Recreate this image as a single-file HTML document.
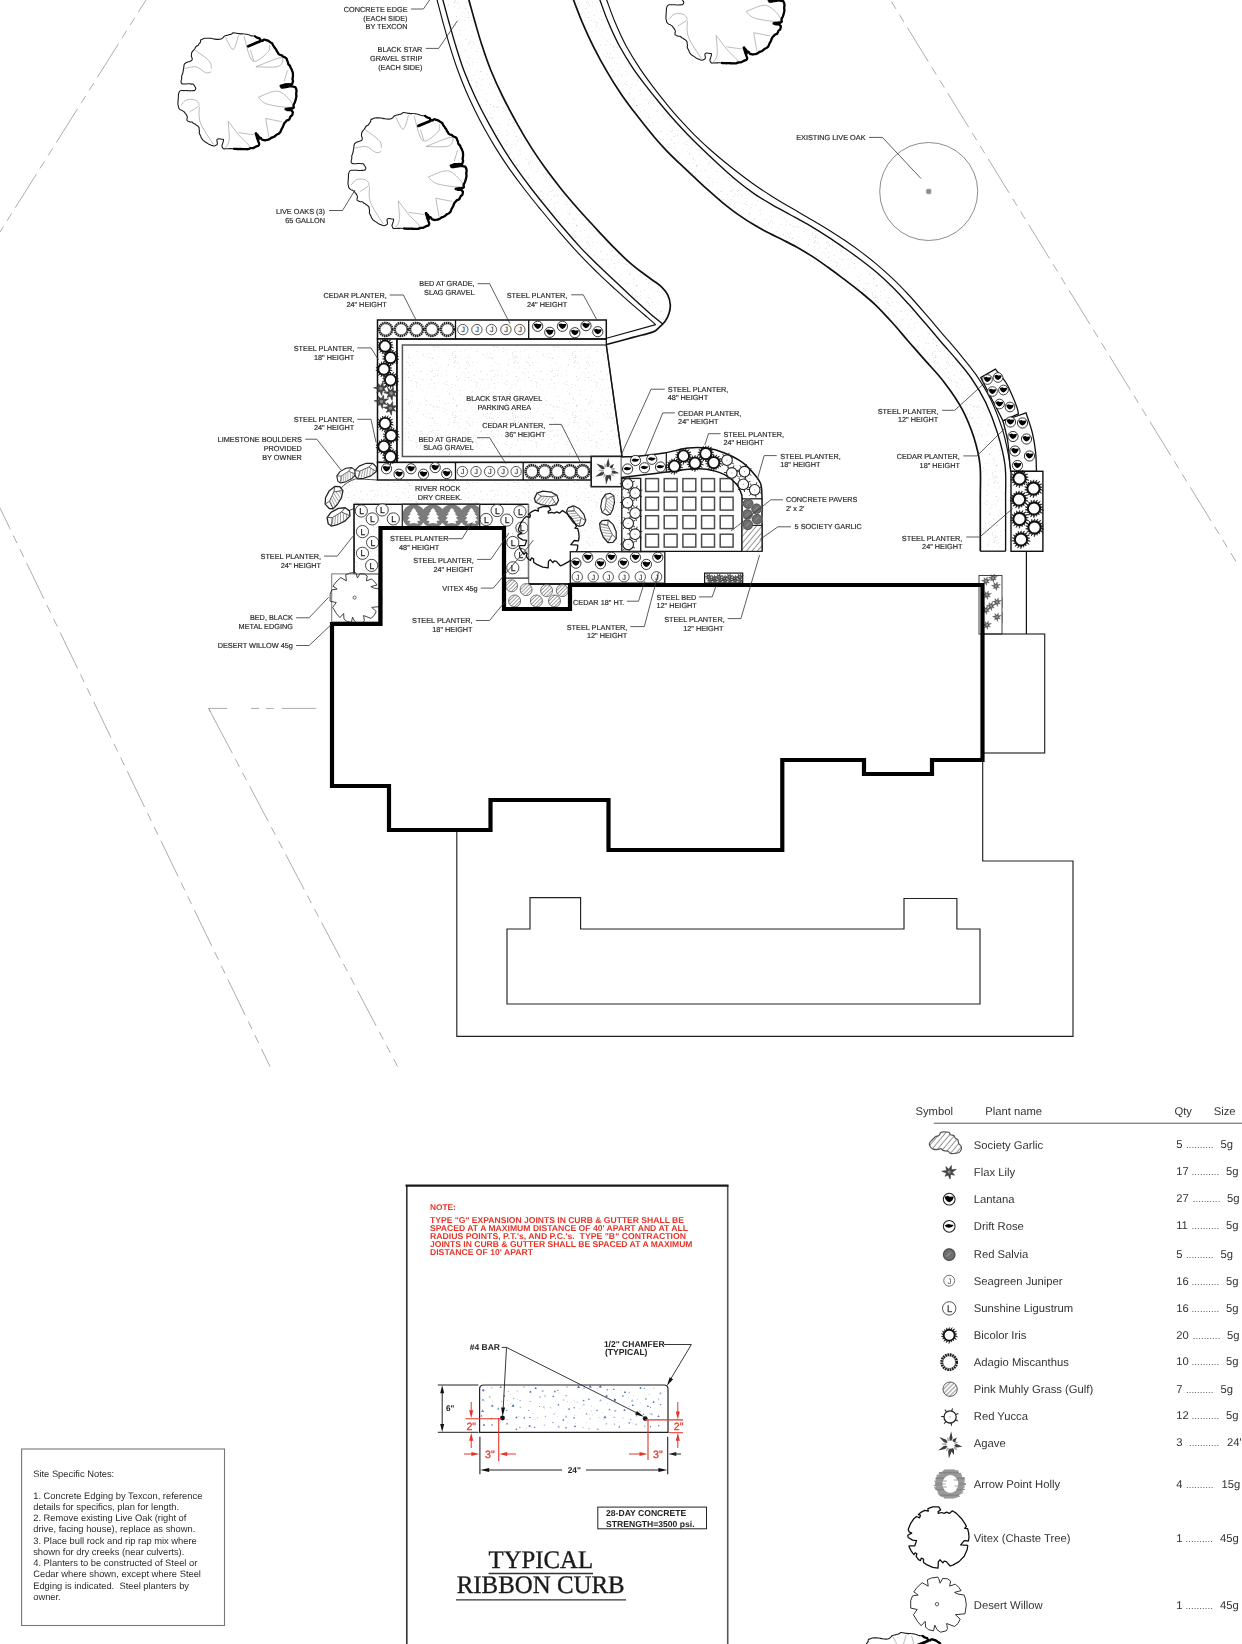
<!DOCTYPE html>
<html><head><meta charset="utf-8"><title>Landscape Plan</title>
<style>
html,body{margin:0;padding:0;background:#fff;}
body{width:1242px;height:1644px;overflow:hidden;}
svg{display:block;font-family:"Liberation Sans",sans-serif;}
svg text{text-rendering:geometricPrecision;}
</style></head><body>
<svg width="1242" height="1644" viewBox="0 0 1242 1644">
<rect width="1242" height="1644" fill="#fff"/>
<defs>
<pattern id="stip" width="60" height="60" patternUnits="userSpaceOnUse"><circle cx="14.3" cy="32.7" r="0.3" fill="#cfcfcf"/><circle cx="37.5" cy="3.9" r="0.3" fill="#a8a8a8"/><circle cx="15.6" cy="14.1" r="0.3" fill="#999"/><circle cx="23.8" cy="51.7" r="0.4" fill="#bdbdbd"/><circle cx="52.1" cy="31.4" r="0.35" fill="#a8a8a8"/><circle cx="9.6" cy="57.4" r="0.45" fill="#a8a8a8"/><circle cx="46.8" cy="49.4" r="0.3" fill="#cfcfcf"/><circle cx="35.7" cy="55.2" r="0.3" fill="#999"/><circle cx="23.7" cy="48.1" r="0.4" fill="#999"/><circle cx="52.7" cy="5.8" r="0.3" fill="#bdbdbd"/><circle cx="13" cy="57.9" r="0.45" fill="#999"/><circle cx="25.3" cy="50" r="0.45" fill="#c4c4c4"/><circle cx="32" cy="24.5" r="0.45" fill="#bdbdbd"/><circle cx="40.9" cy="55.7" r="0.4" fill="#cfcfcf"/><circle cx="41.9" cy="19.6" r="0.35" fill="#c4c4c4"/><circle cx="42.8" cy="12.7" r="0.45" fill="#c4c4c4"/><circle cx="17.1" cy="3.8" r="0.35" fill="#999"/><circle cx="20.6" cy="4" r="0.35" fill="#bdbdbd"/><circle cx="17.6" cy="46.1" r="0.35" fill="#a8a8a8"/><circle cx="36.3" cy="45.7" r="0.45" fill="#999"/><circle cx="33.1" cy="55.3" r="0.4" fill="#cfcfcf"/><circle cx="59.9" cy="18.6" r="0.35" fill="#a8a8a8"/><circle cx="36" cy="1.9" r="0.3" fill="#bdbdbd"/><circle cx="17.5" cy="15.8" r="0.45" fill="#a8a8a8"/><circle cx="18.8" cy="57.5" r="0.3" fill="#999"/><circle cx="27.6" cy="31.2" r="0.35" fill="#c4c4c4"/><circle cx="37.2" cy="56.4" r="0.45" fill="#c4c4c4"/><circle cx="25.9" cy="43.2" r="0.45" fill="#bdbdbd"/><circle cx="26.2" cy="15.5" r="0.45" fill="#cfcfcf"/><circle cx="0.7" cy="24.9" r="0.45" fill="#c4c4c4"/><circle cx="1.2" cy="36.9" r="0.35" fill="#bdbdbd"/><circle cx="38" cy="19.9" r="0.45" fill="#cfcfcf"/><circle cx="36.5" cy="16.7" r="0.35" fill="#999"/><circle cx="35.4" cy="57.3" r="0.45" fill="#a8a8a8"/><circle cx="15.1" cy="27.4" r="0.45" fill="#c4c4c4"/><circle cx="10.6" cy="11.1" r="0.45" fill="#cfcfcf"/><circle cx="18" cy="22.6" r="0.4" fill="#a8a8a8"/><circle cx="18.6" cy="13.4" r="0.4" fill="#cfcfcf"/><circle cx="19.7" cy="40.7" r="0.35" fill="#a8a8a8"/><circle cx="36" cy="56.9" r="0.3" fill="#bdbdbd"/><circle cx="48.6" cy="57.6" r="0.45" fill="#a8a8a8"/><circle cx="44.5" cy="13.1" r="0.3" fill="#c4c4c4"/><circle cx="16.2" cy="47.2" r="0.4" fill="#a8a8a8"/><circle cx="18.9" cy="50.2" r="0.4" fill="#c4c4c4"/><circle cx="51.8" cy="20.4" r="0.45" fill="#a8a8a8"/><circle cx="35.4" cy="25.3" r="0.45" fill="#c4c4c4"/><circle cx="27.9" cy="38.1" r="0.3" fill="#cfcfcf"/><circle cx="34.1" cy="2.1" r="0.4" fill="#999"/><circle cx="12" cy="28.6" r="0.3" fill="#c4c4c4"/><circle cx="33.5" cy="59.1" r="0.35" fill="#bdbdbd"/><circle cx="44.7" cy="50.2" r="0.45" fill="#c4c4c4"/><circle cx="32.6" cy="53.4" r="0.45" fill="#a8a8a8"/><circle cx="7.2" cy="14.7" r="0.4" fill="#a8a8a8"/><circle cx="53.8" cy="54" r="0.35" fill="#c4c4c4"/><circle cx="0.8" cy="44.7" r="0.45" fill="#bdbdbd"/><circle cx="14.3" cy="1.2" r="0.3" fill="#c4c4c4"/><circle cx="3.2" cy="54.8" r="0.45" fill="#a8a8a8"/><circle cx="7.5" cy="58.3" r="0.3" fill="#c4c4c4"/><circle cx="48.7" cy="3.7" r="0.4" fill="#bdbdbd"/><circle cx="7.3" cy="53.3" r="0.4" fill="#a8a8a8"/><circle cx="14.4" cy="16.4" r="0.35" fill="#bdbdbd"/><circle cx="29.3" cy="34.3" r="0.35" fill="#999"/><circle cx="45.4" cy="14.9" r="0.3" fill="#c4c4c4"/><circle cx="3.1" cy="19.4" r="0.35" fill="#a8a8a8"/><circle cx="46.5" cy="2.8" r="0.35" fill="#a8a8a8"/><circle cx="29" cy="2" r="0.3" fill="#a8a8a8"/><circle cx="19" cy="18.9" r="0.3" fill="#cfcfcf"/><circle cx="38.8" cy="35.2" r="0.45" fill="#cfcfcf"/><circle cx="11.5" cy="19.7" r="0.4" fill="#a8a8a8"/><circle cx="33.3" cy="43" r="0.35" fill="#999"/><circle cx="34" cy="2.6" r="0.3" fill="#999"/><circle cx="38.2" cy="2.6" r="0.35" fill="#999"/><circle cx="22.3" cy="29.8" r="0.3" fill="#cfcfcf"/><circle cx="57" cy="25.1" r="0.4" fill="#a8a8a8"/><circle cx="13.1" cy="16.2" r="0.35" fill="#c4c4c4"/><circle cx="48.2" cy="13.5" r="0.35" fill="#bdbdbd"/><circle cx="56.2" cy="22.5" r="0.45" fill="#c4c4c4"/><circle cx="7.3" cy="41.4" r="0.3" fill="#c4c4c4"/><circle cx="40.1" cy="44" r="0.35" fill="#c4c4c4"/><circle cx="48.7" cy="43" r="0.4" fill="#999"/><circle cx="14.2" cy="23.3" r="0.35" fill="#c4c4c4"/><circle cx="33.9" cy="39.6" r="0.4" fill="#999"/><circle cx="49.2" cy="20.5" r="0.35" fill="#a8a8a8"/><circle cx="50.6" cy="40.4" r="0.45" fill="#cfcfcf"/><circle cx="47.9" cy="2.2" r="0.4" fill="#c4c4c4"/><circle cx="6.4" cy="44.9" r="0.35" fill="#c4c4c4"/><circle cx="33" cy="52.2" r="0.35" fill="#bdbdbd"/><circle cx="14.5" cy="10.8" r="0.3" fill="#bdbdbd"/><circle cx="37" cy="45.2" r="0.45" fill="#999"/><circle cx="22" cy="23.8" r="0.3" fill="#cfcfcf"/><circle cx="58" cy="22.5" r="0.3" fill="#bdbdbd"/><circle cx="50.6" cy="58" r="0.3" fill="#999"/><circle cx="9.4" cy="24.1" r="0.4" fill="#bdbdbd"/><circle cx="5.8" cy="44.9" r="0.3" fill="#c4c4c4"/><circle cx="35.2" cy="51.5" r="0.45" fill="#bdbdbd"/><circle cx="45.1" cy="8.8" r="0.45" fill="#c4c4c4"/><circle cx="56.1" cy="51.1" r="0.45" fill="#c4c4c4"/><circle cx="40.3" cy="51.3" r="0.45" fill="#c4c4c4"/><circle cx="53.4" cy="18.4" r="0.3" fill="#cfcfcf"/><circle cx="48.2" cy="12" r="0.45" fill="#c4c4c4"/><circle cx="14.3" cy="29" r="0.3" fill="#bdbdbd"/><circle cx="59.5" cy="28.8" r="0.4" fill="#c4c4c4"/><circle cx="28.1" cy="50.1" r="0.35" fill="#c4c4c4"/><circle cx="28.9" cy="43.2" r="0.35" fill="#999"/><circle cx="28" cy="13.8" r="0.35" fill="#bdbdbd"/><circle cx="57.5" cy="51.2" r="0.4" fill="#bdbdbd"/><circle cx="46.5" cy="8.2" r="0.35" fill="#c4c4c4"/><circle cx="54" cy="15.3" r="0.45" fill="#a8a8a8"/><circle cx="11" cy="5.5" r="0.35" fill="#a8a8a8"/><circle cx="5.6" cy="50" r="0.35" fill="#cfcfcf"/><circle cx="21.4" cy="34.8" r="0.35" fill="#cfcfcf"/><circle cx="1.8" cy="19.9" r="0.3" fill="#999"/><circle cx="4.7" cy="38.7" r="0.3" fill="#999"/><circle cx="7.5" cy="19.1" r="0.35" fill="#cfcfcf"/><circle cx="39.9" cy="6.8" r="0.45" fill="#c4c4c4"/><circle cx="5.8" cy="56.5" r="0.45" fill="#cfcfcf"/><circle cx="45.4" cy="17.7" r="0.35" fill="#cfcfcf"/><circle cx="45.3" cy="57.7" r="0.35" fill="#c4c4c4"/><circle cx="40" cy="30.5" r="0.45" fill="#a8a8a8"/><circle cx="40.7" cy="34" r="0.4" fill="#bdbdbd"/><circle cx="10.7" cy="53.4" r="0.35" fill="#999"/><circle cx="6.5" cy="33.6" r="0.3" fill="#cfcfcf"/><circle cx="33.3" cy="38.8" r="0.3" fill="#999"/><circle cx="18.7" cy="10.6" r="0.35" fill="#a8a8a8"/><circle cx="43" cy="45.3" r="0.3" fill="#c4c4c4"/><circle cx="21.6" cy="16" r="0.35" fill="#999"/><circle cx="52.4" cy="2.5" r="0.45" fill="#c4c4c4"/><circle cx="14.8" cy="46.1" r="0.45" fill="#cfcfcf"/><circle cx="56.7" cy="26.9" r="0.45" fill="#a8a8a8"/><circle cx="29.9" cy="59.7" r="0.45" fill="#bdbdbd"/><circle cx="35.4" cy="40.9" r="0.35" fill="#c4c4c4"/><circle cx="11.1" cy="11.4" r="0.3" fill="#999"/><circle cx="48.9" cy="44.9" r="0.4" fill="#c4c4c4"/><circle cx="51.6" cy="47.9" r="0.4" fill="#c4c4c4"/><circle cx="34.1" cy="12.1" r="0.45" fill="#cfcfcf"/><circle cx="46.9" cy="1.8" r="0.3" fill="#999"/><circle cx="57" cy="23" r="0.45" fill="#c4c4c4"/><circle cx="38" cy="58.6" r="0.3" fill="#cfcfcf"/><circle cx="1.8" cy="11.4" r="0.35" fill="#a8a8a8"/><circle cx="46.2" cy="39.7" r="0.4" fill="#999"/><circle cx="31.4" cy="27.6" r="0.4" fill="#bdbdbd"/><circle cx="2.2" cy="30" r="0.35" fill="#999"/><circle cx="34" cy="57.5" r="0.4" fill="#bdbdbd"/><circle cx="28" cy="5.3" r="0.35" fill="#a8a8a8"/><circle cx="21.6" cy="14" r="0.3" fill="#a8a8a8"/><circle cx="32.3" cy="55.8" r="0.45" fill="#cfcfcf"/><circle cx="52.2" cy="41.7" r="0.35" fill="#bdbdbd"/><circle cx="51.5" cy="36.1" r="0.35" fill="#a8a8a8"/><circle cx="44.4" cy="20.6" r="0.35" fill="#bdbdbd"/><circle cx="51.7" cy="26.2" r="0.3" fill="#bdbdbd"/><circle cx="18.9" cy="47.2" r="0.35" fill="#999"/><circle cx="50.7" cy="42.4" r="0.3" fill="#999"/><circle cx="28.4" cy="4.1" r="0.4" fill="#999"/><circle cx="39" cy="18.3" r="0.3" fill="#999"/><circle cx="45.4" cy="24.1" r="0.3" fill="#bdbdbd"/><circle cx="54" cy="43.2" r="0.45" fill="#cfcfcf"/><circle cx="26.9" cy="21.7" r="0.4" fill="#999"/><circle cx="58.2" cy="48.3" r="0.45" fill="#cfcfcf"/><circle cx="8.6" cy="27.6" r="0.4" fill="#bdbdbd"/><circle cx="12.6" cy="10.2" r="0.4" fill="#999"/><circle cx="38.2" cy="8.4" r="0.4" fill="#c4c4c4"/><circle cx="26.6" cy="11.1" r="0.3" fill="#a8a8a8"/><circle cx="26.9" cy="24.5" r="0.4" fill="#a8a8a8"/><circle cx="24.2" cy="23.8" r="0.4" fill="#a8a8a8"/><circle cx="14.5" cy="23.3" r="0.4" fill="#bdbdbd"/><circle cx="20" cy="7" r="0.35" fill="#a8a8a8"/><circle cx="48.4" cy="17.4" r="0.45" fill="#999"/><circle cx="29.3" cy="33.7" r="0.45" fill="#a8a8a8"/><circle cx="37.7" cy="20.7" r="0.35" fill="#a8a8a8"/><circle cx="40.9" cy="58.2" r="0.35" fill="#c4c4c4"/><circle cx="6.3" cy="40.8" r="0.4" fill="#a8a8a8"/><circle cx="30.2" cy="28.9" r="0.45" fill="#bdbdbd"/><circle cx="12" cy="58.4" r="0.45" fill="#999"/><circle cx="48.2" cy="55" r="0.3" fill="#a8a8a8"/><circle cx="18.3" cy="36.4" r="0.35" fill="#999"/><circle cx="56.8" cy="11" r="0.35" fill="#999"/><circle cx="30.4" cy="32.8" r="0.3" fill="#c4c4c4"/><circle cx="10.5" cy="44.4" r="0.45" fill="#999"/><circle cx="55.4" cy="21.8" r="0.3" fill="#999"/><circle cx="13.8" cy="46.8" r="0.45" fill="#999"/><circle cx="16.2" cy="10.2" r="0.3" fill="#c4c4c4"/><circle cx="57" cy="2.6" r="0.35" fill="#bdbdbd"/><circle cx="49.4" cy="5.5" r="0.45" fill="#a8a8a8"/><circle cx="14.2" cy="50.6" r="0.35" fill="#a8a8a8"/><circle cx="27" cy="53.8" r="0.45" fill="#cfcfcf"/><circle cx="0.1" cy="11.7" r="0.45" fill="#a8a8a8"/><circle cx="34.1" cy="6.6" r="0.4" fill="#a8a8a8"/><circle cx="14.4" cy="2.9" r="0.4" fill="#bdbdbd"/><circle cx="35.1" cy="0.7" r="0.45" fill="#bdbdbd"/><circle cx="58" cy="13.2" r="0.3" fill="#c4c4c4"/></pattern>
<pattern id="hat" width="2.6" height="2.6" patternUnits="userSpaceOnUse" patternTransform="rotate(-45)"><rect width="2.6" height="2.6" fill="#fff"/><line x1="0" y1="1.3" x2="2.6" y2="1.3" stroke="#8a8a8a" stroke-width="0.8"/></pattern>
<pattern id="hat2" width="4.2" height="4.2" patternUnits="userSpaceOnUse" patternTransform="rotate(-50)"><rect width="4.2" height="4.2" fill="#fff"/><line x1="0" y1="2" x2="4.2" y2="2" stroke="#777" stroke-width="0.8"/></pattern>
<g id="speck"><circle cx="3.7" cy="5.4" r="1.1" fill="#4a6fae"/><circle cx="12.2" cy="2.8" r="0.5" fill="#4a6fae"/><polygon points="21.2,0.8 22.4,3 19.9,2.9" fill="#6a8cc0"/><circle cx="29" cy="6.4" r="0.6" fill="#a9bedf"/><circle cx="37.6" cy="6.1" r="0.5" fill="#6a8cc0"/><circle cx="44.5" cy="1.9" r="0.6" fill="#6a8cc0"/><circle cx="50.8" cy="6.9" r="0.9" fill="#4a6fae"/><polygon points="56.1,1.8 57.3,4 54.9,3.9" fill="#4a6fae"/><circle cx="63.1" cy="6.1" r="1.1" fill="#a9bedf"/><circle cx="75.3" cy="6.5" r="0.9" fill="#6a8cc0"/><polygon points="78.2,4.6 78.9,6 77.4,5.9" fill="#4a6fae"/><polygon points="87.4,1.1 88.2,2.5 86.7,2.5" fill="#5578b0"/><polygon points="99,0.2 100.5,3 97.4,2.8" fill="#4a6fae"/><polygon points="104.5,1.7 105.6,3.7 103.4,3.6" fill="#8fa9d2"/><polygon points="110.7,-0.1 112.2,2.7 109.1,2.6" fill="#5578b0"/><polygon points="120.7,-0.1 122.3,2.7 119.2,2.6" fill="#4a6fae"/><polygon points="127.6,3.6 128.5,5.4 126.6,5.3" fill="#6a8cc0"/><polygon points="134.2,3.2 135.2,5 133.2,4.9" fill="#5578b0"/><polygon points="145.4,5.8 146.6,8 144.2,7.9" fill="#5578b0"/><polygon points="149.7,6.3 150.8,8.3 148.6,8.2" fill="#a9bedf"/><circle cx="160.9" cy="3" r="0.9" fill="#5578b0"/><polygon points="164.7,2.7 165.4,4.1 163.9,4.1" fill="#5578b0"/><polygon points="173.9,2.5 174.6,3.7 173.2,3.6" fill="#8fa9d2"/><polygon points="180.8,6.5 182.4,9.3 179.3,9.2" fill="#a9bedf"/><circle cx="3.3" cy="14.9" r="0.9" fill="#6a8cc0"/><polygon points="10.2,10.6 11.3,12.6 9.1,12.5" fill="#a9bedf"/><polygon points="22.1,16 22.8,17.2 21.4,17.1" fill="#5578b0"/><circle cx="24.7" cy="10.8" r="0.9" fill="#6a8cc0"/><polygon points="34.1,12.7 34.8,13.9 33.5,13.9" fill="#4a6fae"/><polygon points="40.6,14.7 41.3,16.1 39.8,16" fill="#6a8cc0"/><polygon points="50.6,15.7 51.2,16.9 49.9,16.9" fill="#5578b0"/><polygon points="60.4,11.1 61.2,12.5 59.6,12.4" fill="#5578b0"/><polygon points="65.3,9.8 66.3,11.6 64.3,11.6" fill="#8fa9d2"/><circle cx="73.7" cy="11.4" r="0.9" fill="#6a8cc0"/><circle cx="83.9" cy="15.1" r="0.8" fill="#a9bedf"/><circle cx="86.5" cy="10.7" r="0.6" fill="#4a6fae"/><circle cx="97.6" cy="17.2" r="0.6" fill="#a9bedf"/><circle cx="104" cy="15.6" r="0.9" fill="#6a8cc0"/><circle cx="109.3" cy="14.3" r="0.8" fill="#5578b0"/><polygon points="120.9,14.1 122.1,16.3 119.7,16.2" fill="#8fa9d2"/><circle cx="127" cy="11" r="1.1" fill="#5578b0"/><circle cx="135.3" cy="14.9" r="1.1" fill="#4a6fae"/><circle cx="143.3" cy="11.1" r="0.8" fill="#5578b0"/><polygon points="152.6,13.9 154.1,16.7 151,16.6" fill="#a9bedf"/><polygon points="157.8,13.6 158.4,14.8 157.1,14.7" fill="#a9bedf"/><polygon points="166.3,12.8 167.3,14.6 165.3,14.5" fill="#5578b0"/><polygon points="174.1,15.6 175.3,17.8 172.9,17.7" fill="#5578b0"/><circle cx="179" cy="14.8" r="0.5" fill="#6a8cc0"/><polygon points="3.1,24.3 4.6,27.1 1.5,27" fill="#6a8cc0"/><circle cx="12.7" cy="20.9" r="1.1" fill="#6a8cc0"/><polygon points="18.7,22.3 19.9,24.5 17.5,24.4" fill="#6a8cc0"/><circle cx="27.1" cy="25.4" r="0.6" fill="#5578b0"/><polygon points="33.5,19 35,21.8 31.9,21.7" fill="#4a6fae"/><polygon points="40.8,21.2 41.9,23.2 39.7,23.1" fill="#a9bedf"/><polygon points="49.1,24.7 49.8,25.9 48.4,25.8" fill="#4a6fae"/><circle cx="59.9" cy="21.4" r="0.5" fill="#5578b0"/><polygon points="64.3,20.8 65.4,22.8 63.2,22.7" fill="#a9bedf"/><polygon points="71.1,21.8 71.9,23.2 70.3,23.2" fill="#8fa9d2"/><polygon points="78.8,18.6 79.9,20.6 77.7,20.5" fill="#5578b0"/><circle cx="89.5" cy="24.1" r="0.9" fill="#5578b0"/><circle cx="94.6" cy="22.8" r="0.7" fill="#5578b0"/><circle cx="104.3" cy="19.8" r="0.7" fill="#8fa9d2"/><circle cx="112" cy="26.1" r="0.5" fill="#a9bedf"/><polygon points="117.5,24.2 118.6,26.2 116.4,26.1" fill="#6a8cc0"/><polygon points="129.8,23.5 130.8,25.3 128.8,25.2" fill="#4a6fae"/><circle cx="135.7" cy="25.9" r="1.1" fill="#a9bedf"/><polygon points="144.9,23.8 146.1,26 143.7,25.8" fill="#4a6fae"/><polygon points="153.2,19 154.3,21 152.1,20.9" fill="#5578b0"/><circle cx="160.4" cy="26.4" r="0.9" fill="#a9bedf"/><polygon points="168.3,20.1 169.4,22.1 167.2,22" fill="#5578b0"/><circle cx="170.9" cy="22.6" r="0.5" fill="#4a6fae"/><circle cx="181" cy="19.7" r="0.6" fill="#4a6fae"/><polygon points="2,29.8 3,31.6 1,31.5" fill="#4a6fae"/><circle cx="11.8" cy="33.6" r="0.8" fill="#4a6fae"/><polygon points="19.4,34.3 20.1,35.7 18.6,35.6" fill="#6a8cc0"/><circle cx="27.5" cy="34.3" r="0.5" fill="#6a8cc0"/><circle cx="36.9" cy="32.4" r="0.9" fill="#4a6fae"/><circle cx="44.7" cy="32.8" r="0.9" fill="#6a8cc0"/><circle cx="50.3" cy="32.5" r="0.7" fill="#4a6fae"/><circle cx="57.9" cy="32.7" r="0.6" fill="#a9bedf"/><polygon points="65.7,30.6 66.4,31.8 65,31.7" fill="#5578b0"/><polygon points="74.4,28.2 75.1,29.4 73.8,29.4" fill="#4a6fae"/><polygon points="83.7,33.6 85,35.8 82.5,35.7" fill="#6a8cc0"/><polygon points="86.5,29.9 88,32.7 84.9,32.5" fill="#a9bedf"/><circle cx="94.5" cy="32.8" r="0.9" fill="#6a8cc0"/><polygon points="107,27.7 108,29.5 106,29.4" fill="#6a8cc0"/><polygon points="110.5,32.5 111.5,34.3 109.5,34.2" fill="#a9bedf"/><polygon points="119.5,31.9 120.2,33.1 118.8,33" fill="#a9bedf"/><polygon points="125.4,30.5 126.9,33.3 123.8,33.2" fill="#5578b0"/><polygon points="134.4,31.1 135.4,32.9 133.4,32.8" fill="#a9bedf"/><circle cx="143.4" cy="33" r="0.5" fill="#6a8cc0"/><circle cx="151" cy="34.5" r="0.7" fill="#8fa9d2"/><circle cx="156.9" cy="30.7" r="0.7" fill="#6a8cc0"/><circle cx="163.9" cy="29.2" r="0.7" fill="#6a8cc0"/><circle cx="172" cy="29.2" r="1.1" fill="#a9bedf"/><polygon points="178.9,30.1 180,32.1 177.8,32" fill="#5578b0"/><circle cx="4.4" cy="40" r="0.9" fill="#5578b0"/><circle cx="12.5" cy="39.9" r="0.8" fill="#6a8cc0"/><circle cx="19.3" cy="37.7" r="0.5" fill="#a9bedf"/><polygon points="27.5,37.4 28.5,39.2 26.5,39.2" fill="#5578b0"/><circle cx="36.8" cy="44.4" r="0.8" fill="#5578b0"/><polygon points="40.3,41.4 41.1,42.8 39.5,42.8" fill="#5578b0"/><circle cx="50" cy="41.1" r="1.1" fill="#6a8cc0"/><polygon points="55,41.3 56,43.1 54,43" fill="#6a8cc0"/><polygon points="64.8,39 65.7,40.8 63.8,40.7" fill="#a9bedf"/><circle cx="73.4" cy="37.6" r="0.6" fill="#4a6fae"/><polygon points="79.1,40.3 80.4,42.5 77.9,42.4" fill="#8fa9d2"/><polygon points="86.4,41.6 87.4,43.4 85.4,43.3" fill="#4a6fae"/><circle cx="95.4" cy="41.3" r="0.9" fill="#4a6fae"/><polygon points="103.5,41.7 104.3,43.1 102.8,43" fill="#8fa9d2"/><polygon points="109.4,42.5 110.5,44.5 108.3,44.4" fill="#a9bedf"/><polygon points="118.1,42.9 119.3,45.1 116.9,45" fill="#8fa9d2"/><circle cx="126.6" cy="38.8" r="0.6" fill="#4a6fae"/><circle cx="134.9" cy="39" r="0.6" fill="#4a6fae"/><polygon points="139.7,40.6 140.8,42.6 138.6,42.5" fill="#6a8cc0"/><polygon points="149.7,36.8 150.7,38.6 148.7,38.5" fill="#4a6fae"/><circle cx="156.6" cy="39.4" r="0.9" fill="#a9bedf"/><circle cx="165.2" cy="41.1" r="0.6" fill="#4a6fae"/><circle cx="170.9" cy="41.7" r="0.6" fill="#4a6fae"/><circle cx="179.1" cy="40.8" r="0.7" fill="#4a6fae"/><circle cx="112.2" cy="21" r="0.4" fill="#9a9a9a"/><circle cx="93.5" cy="14.9" r="0.4" fill="#9a9a9a"/><circle cx="75.9" cy="16.1" r="0.4" fill="#9a9a9a"/><circle cx="100.1" cy="23.3" r="0.4" fill="#9a9a9a"/><circle cx="52.4" cy="42" r="0.4" fill="#9a9a9a"/><circle cx="124.4" cy="34.4" r="0.4" fill="#9a9a9a"/><circle cx="7.9" cy="35.4" r="0.4" fill="#9a9a9a"/><circle cx="110.2" cy="29.6" r="0.4" fill="#9a9a9a"/><circle cx="77.8" cy="31.7" r="0.4" fill="#9a9a9a"/><circle cx="12.7" cy="16.2" r="0.4" fill="#9a9a9a"/><circle cx="75.8" cy="27.4" r="0.4" fill="#9a9a9a"/><circle cx="135.3" cy="16.4" r="0.4" fill="#9a9a9a"/><circle cx="149" cy="12.4" r="0.4" fill="#9a9a9a"/><circle cx="134.6" cy="13.5" r="0.4" fill="#9a9a9a"/><circle cx="141.3" cy="4.9" r="0.4" fill="#9a9a9a"/><circle cx="21" cy="37" r="0.4" fill="#9a9a9a"/><circle cx="169.4" cy="9.1" r="0.4" fill="#9a9a9a"/><circle cx="178.7" cy="13.3" r="0.4" fill="#9a9a9a"/><circle cx="132.3" cy="5.1" r="0.4" fill="#9a9a9a"/><circle cx="79.3" cy="8" r="0.4" fill="#9a9a9a"/><circle cx="160.6" cy="18" r="0.4" fill="#9a9a9a"/><circle cx="31.3" cy="18.3" r="0.4" fill="#9a9a9a"/><circle cx="28.6" cy="20.5" r="0.4" fill="#9a9a9a"/><circle cx="113" cy="29.9" r="0.4" fill="#9a9a9a"/><circle cx="127.8" cy="18.3" r="0.4" fill="#9a9a9a"/><circle cx="139.1" cy="37.2" r="0.4" fill="#9a9a9a"/><circle cx="28.1" cy="15.2" r="0.4" fill="#9a9a9a"/><circle cx="26.6" cy="23.2" r="0.4" fill="#9a9a9a"/><circle cx="95" cy="16" r="0.4" fill="#9a9a9a"/><circle cx="95.8" cy="38.6" r="0.4" fill="#9a9a9a"/><circle cx="53.3" cy="28.6" r="0.4" fill="#9a9a9a"/><circle cx="135.7" cy="32.4" r="0.4" fill="#9a9a9a"/><circle cx="37.8" cy="14.7" r="0.4" fill="#9a9a9a"/><circle cx="46.8" cy="43" r="0.4" fill="#9a9a9a"/><circle cx="94.9" cy="30.4" r="0.4" fill="#9a9a9a"/><circle cx="38.9" cy="31.7" r="0.4" fill="#9a9a9a"/><circle cx="118" cy="3.4" r="0.4" fill="#9a9a9a"/><circle cx="50.5" cy="4.1" r="0.4" fill="#9a9a9a"/><circle cx="10" cy="12.3" r="0.4" fill="#9a9a9a"/><circle cx="53.9" cy="34.7" r="0.4" fill="#9a9a9a"/><circle cx="170.1" cy="9.8" r="0.4" fill="#9a9a9a"/><circle cx="46" cy="44.2" r="0.4" fill="#9a9a9a"/><circle cx="91.6" cy="17.9" r="0.4" fill="#9a9a9a"/><circle cx="64.9" cy="23.8" r="0.4" fill="#9a9a9a"/><circle cx="27.4" cy="39.5" r="0.4" fill="#9a9a9a"/><circle cx="149.8" cy="21.8" r="0.4" fill="#9a9a9a"/><circle cx="153.4" cy="38.2" r="0.4" fill="#9a9a9a"/><circle cx="143.7" cy="21.7" r="0.4" fill="#9a9a9a"/><circle cx="139.8" cy="19.4" r="0.4" fill="#9a9a9a"/><circle cx="30.6" cy="9.4" r="0.4" fill="#9a9a9a"/><circle cx="156.1" cy="28.1" r="0.4" fill="#9a9a9a"/><circle cx="56.2" cy="34.9" r="0.4" fill="#9a9a9a"/><circle cx="154.2" cy="10.7" r="0.4" fill="#9a9a9a"/><circle cx="122.6" cy="27.4" r="0.4" fill="#9a9a9a"/><circle cx="87.5" cy="16.6" r="0.4" fill="#9a9a9a"/><circle cx="102.5" cy="21.1" r="0.4" fill="#9a9a9a"/><circle cx="106.9" cy="37.2" r="0.4" fill="#9a9a9a"/><circle cx="87.8" cy="37.6" r="0.4" fill="#9a9a9a"/><circle cx="4.7" cy="16" r="0.4" fill="#9a9a9a"/><circle cx="169.7" cy="28.4" r="0.4" fill="#9a9a9a"/></g>
<g id="lan"><circle r="5.1" fill="#fff" stroke="#222" stroke-width="0.9"/><path d="M-3.9,-2.2 L-1.2,-2.9 L0.3,-2.2 L3.9,-2.4 Q3.4,1.6 0,2.6 Q-3.3,1.6 -3.9,-2.2Z" fill="#000"/></g>
<g id="dr"><circle r="5.1" fill="#fff" stroke="#222" stroke-width="0.9"/><path d="M-4,-0.6 Q-1,-2.6 1,-1.6 L4,-1.2 Q2.2,1.6 -0.5,1.3 Q-3,1.2 -4,-0.6Z" fill="#000"/></g>
<g id="jun"><circle r="5.2" fill="#fff" stroke="#444" stroke-width="0.9"/><text x="0.2" y="2.7" font-size="7.4" stroke="#444" stroke-width="0.2" text-anchor="middle" fill="#444">J</text></g>
<g id="lig"><circle r="6.1" fill="#fff" stroke="#333" stroke-width="0.9"/><text x="0.3" y="3.1" font-size="8.6" text-anchor="middle" fill="#222" stroke="#222" stroke-width="0.25">L</text></g>
<g id="iris"><path d="M5.4,-0.2 L8.5,1.7 L5.3,1.2 Z M5.1,1.7 L7.4,4.5 L4.5,3 Z M4.2,3.3 L4.7,5.8 L3.2,4.3 Z M2.8,4.6 L2.4,7.1 L1.6,5.2 Z M1.1,5.3 L-0.2,8.5 L-0.3,5.4 Z M-0.8,5.3 L-3.1,7.8 L-2.1,5 Z M-2.6,4.8 L-5.5,6.2 L-3.7,3.9 Z M-4,3.6 L-6.9,3.7 L-4.8,2.4 Z M-5,2 L-8.1,1.2 L-5.4,0.6 Z M-5.4,0.2 L-8,-1.6 L-5.3,-1.2 Z M-5.1,-1.7 L-7,-4.3 L-4.5,-3 Z M-4.2,-3.3 L-4.7,-5.9 L-3.2,-4.3 Z M-2.8,-4.6 L-2.5,-7.5 L-1.6,-5.2 Z M-1.1,-5.3 L0.2,-7.9 L0.3,-5.4 Z M0.8,-5.3 L3.1,-7.8 L2.1,-5 Z M2.6,-4.8 L5.8,-6.5 L3.7,-3.9 Z M4,-3.6 L7.6,-4.1 L4.8,-2.4 Z M5,-2 L8,-1.2 L5.4,-0.6 Z " stroke="#111" stroke-width="0.5" fill="#111"/><circle r="5.5" fill="#fff" stroke="#111" stroke-width="1.7"/></g>
<g id="mis"><circle r="6.6" fill="#fff" stroke="#1c1c1c" stroke-width="2.3" stroke-dasharray="1.5 0.6"/><circle r="5.5" fill="none" stroke="#333" stroke-width="0.5"/></g>
<g id="muh"><circle r="6" fill="url(#hat)" stroke="#555" stroke-width="0.8"/></g>
<g id="yuc"><path d="M4.7,2.5 L6.8,3.7 M0.9,5.2 L1.3,7.7 M-3.5,4 L-5.2,5.8 M-5.3,-0.3 L-7.8,-0.4 M-3.1,-4.3 L-4.5,-6.3 M1.4,-5.1 L2.1,-7.5 M4.9,-2.1 L7.2,-3 " stroke="#222" stroke-width="0.9" fill="none"/><circle r="5.3" fill="#fff" stroke="#222" stroke-width="1.1"/><circle r="0.6" fill="#999"/></g>
<g id="sal"><circle r="5.6" fill="#bbb" opacity="0.6"/><circle r="4.8" fill="#6e6e6e" stroke="#4a4a4a" stroke-width="0.9"/><path d="M-2,1.5 L1.5,-2" stroke="#9a9a9a" stroke-width="0.9"/></g>
<g id="flax"><polygon points="6.2,-2.3 2.6,0.3 4.6,2.8 1.3,2 0.8,6.2 -0.9,2.7 -3.6,3.7 -2.3,0.9 -6.4,-0.6 -2.2,-1.4 -3,-4.7 -0.3,-2.4 1.9,-5.7 1.9,-1.9" fill="#444" stroke="#333" stroke-width="0.5" stroke-linejoin="round"/><circle r="1.5" fill="#8a8a8a"/></g>
<g id="aga"><path d="M-2.6,-0.2 L-5.3,-1.8 L-10,-0.7 L-5.5,1 Z M2.4,-0.9 L5,-0.3 L8,-2.9 L4.1,-3 Z M2,1.7 L3,4.3 L6.9,5.8 L4.8,2.2 Z M-1.5,2.1 L-3.9,3.2 L-4.9,7 L-1.6,4.8 Z M-1.1,-2.4 L-0.8,-5 L-3.6,-7.7 L-3.3,-3.8 Z " fill="#b0b0b0"/><path d="M0.1,-2.6 L1.9,-6.5 L0.5,-13 L-1.5,-6.6 Z M-2.2,-1.4 L-4.8,-5.2 L-11.5,-7.6 L-6.7,-2.3 Z M-2.4,1.1 L-7,1.3 L-12.6,5.8 L-5.6,4.4 Z M-0.3,2.6 L-2.6,6.6 L-1.8,13.8 L0.8,7.1 Z M0.8,2.5 L0.1,6 L3.3,10.5 L3.3,5 Z M2.6,0.5 L5.7,2.8 L11.6,2.2 L6.3,-0.5 Z M1.7,-2 L4.6,-2.9 L6.1,-7.2 L2,-5.1 Z " fill="#3d3d3d"/><circle r="3.9" fill="#fff"/></g>
<g id="hol"><circle r="11.6" fill="#7c7c7c"/><path d="M0,-8 L2.6,-5.6 L1.6,-5.2 L4.4,-2.6 L2.8,-2.2 L6,0.8 L4,1.4 L6.6,4.6 L3.4,5 L4.6,7.8 L0,7 L-4.6,7.8 L-3.4,5 L-6.6,4.6 L-4,1.4 L-6,0.8 L-2.8,-2.2 L-4.4,-2.6 L-1.6,-5.2 L-2.6,-5.6Z" fill="#fff"/></g>
<g id="holL"><path d="M-5.5,-14 L5.3,-14 M-6.6,-13.2 L8.4,-13.2 M-7.6,-12.3 L8.8,-12.3 M-10.9,-11.5 L8.9,-11.5 M-11,-10.6 L11.1,-10.6 M-10.5,-9.8 L11.3,-9.8 M-12.8,-8.9 L12.2,-8.9 M-13.5,-8.1 L12,-8.1 M-12.7,-7.2 L12.4,-7.2 M-13.8,-6.4 L14.9,-6.4 M-14.4,-5.5 L14.9,-5.5 M-14.2,-4.7 L15.1,-4.7 M-13.8,-3.8 L14.2,-3.8 M-15.4,-3 L15.5,-3 M-14.9,-2.1 L14.1,-2.1 M-14.6,-1.3 L14.5,-1.3 M-14.7,-0.4 L16,-0.4 M-14.5,0.4 L16.2,0.4 M-16.1,1.3 L14.1,1.3 M-14.8,2.1 L15.1,2.1 M-13.8,3 L14.8,3 M-15.8,3.8 L13.8,3.8 M-14.7,4.7 L13.6,4.7 M-14.4,5.5 L15.2,5.5 M-13.1,6.4 L12.6,6.4 M-12.4,7.2 L13.5,7.2 M-11.7,8.1 L11.9,8.1 M-12.3,8.9 L13.4,8.9 M-11.4,9.8 L11.4,9.8 M-11.2,10.6 L9.8,10.6 M-10.1,11.5 L9.1,11.5 M-9.1,12.3 L10,12.3 M-6.3,13.2 L7.6,13.2 M-5.9,14 L4.8,14 " stroke="#7d7d7d" stroke-width="0.9" fill="none"/><ellipse cx="0.5" cy="0" rx="8" ry="9" fill="#fff"/><path d="M-8,-3 L-3,-3 M-9,0 L-4,0 M-8,3 L-3,3 M4,-4 L9,-4 M5,2 L9,2" stroke="#8a8a8a" stroke-width="0.8"/></g><g id="oak"><path d="M-4.5,-58.4 C-4.1,-58.5 -3.2,-58.4 -2.4,-58.3 C-1.7,-58.2 -0.9,-58.1 0.1,-57.9 C1.1,-57.8 2.6,-57.5 3.6,-57.4 C4.5,-57.3 5.2,-57.6 6,-57.5 C6.8,-57.5 7.7,-57.2 8.4,-57.1 C9.2,-57 9.9,-57 10.6,-56.8 C11.4,-56.6 12.2,-56 13,-55.7 C13.8,-55.5 14.9,-55.4 15.6,-55.3 C16.4,-55.2 17.1,-55.3 17.6,-55.1 C18.2,-54.9 18.4,-54.4 18.9,-54.1 C19.5,-53.8 20.2,-53.4 20.7,-53.2 C21.2,-53 21.7,-53.3 22,-53 C22.3,-52.8 22.5,-52 22.7,-51.8 C22.9,-51.5 23,-51.4 23.2,-51.3 C23.4,-51.1 23.6,-51 23.9,-50.8 C24.2,-50.7 24.8,-50.4 25.2,-50.5 C25.5,-50.6 25.6,-51.3 26,-51.5 C26.4,-51.7 27,-51.6 27.5,-51.6 C27.9,-51.5 28.4,-51.2 28.8,-51.1 C29.2,-51 29.6,-51 30,-50.9 C30.5,-50.7 31.1,-50.3 31.6,-50 C32.1,-49.7 32.3,-49.4 32.8,-49.1 C33.3,-48.7 34.3,-48.4 34.8,-47.9 C35.2,-47.5 35.2,-46.7 35.6,-46.1 C35.9,-45.5 36.4,-45.1 36.7,-44.6 C37.1,-44.1 37.4,-43.5 37.7,-43 C38.1,-42.5 38.7,-42 38.9,-41.5 C39.2,-41 39.1,-40.6 39.4,-40.1 C39.6,-39.7 40.1,-39.3 40.4,-38.8 C40.7,-38.3 40.8,-37.7 41.2,-37.3 C41.6,-36.9 42,-36.7 42.5,-36.5 C43.1,-36.2 44,-36.1 44.5,-35.9 C44.9,-35.6 44.9,-35.3 45.3,-35 C45.8,-34.7 46.8,-34.2 47.2,-34 C47.7,-33.8 47.9,-33.8 48.2,-33.6 C48.6,-33.4 49,-33 49.2,-32.6 C49.5,-32.2 49.4,-31.7 49.6,-31.2 C49.8,-30.7 50.3,-30 50.4,-29.5 C50.6,-28.9 50.6,-28.4 50.7,-27.9 C50.8,-27.5 50.7,-27.4 51,-27 C51.3,-26.6 52.3,-25.8 52.7,-25.3 C53,-24.7 52.9,-24.1 53.2,-23.6 C53.5,-23.1 53.9,-22.5 54.2,-22 C54.4,-21.5 54.5,-21.2 54.7,-20.6 C54.9,-20.1 55.3,-19.5 55.4,-18.7 C55.5,-18 55.5,-16.7 55.6,-16 C55.6,-15.3 55.6,-15 55.5,-14.4 C55.4,-13.8 55.1,-12.9 55.1,-12.2 C55.1,-11.5 55.6,-10.7 55.6,-10.1 C55.6,-9.5 55.2,-9.1 55.1,-8.6 C54.9,-8.1 55.2,-7.4 54.7,-7.1 C54.2,-6.8 52.9,-7 51.9,-7 C50.9,-6.9 49.6,-7 48.8,-6.9 C48,-6.9 47.5,-7 46.9,-6.8 C46.2,-6.6 45.4,-6.1 44.9,-5.6 C44.5,-5.2 44.3,-4.5 44.2,-4.2 C44.1,-3.9 43.9,-3.8 44.3,-3.8 C44.7,-3.8 45.7,-3.9 46.6,-4 C47.6,-4.1 48.9,-4.4 49.8,-4.5 C50.7,-4.7 51.3,-4.9 52,-5 C52.7,-5 53.3,-5.1 54,-5 C54.6,-5 55.3,-4.7 56,-4.6 C56.6,-4.5 57.5,-4.5 57.8,-4.3 C58.2,-4.2 58,-3.9 58.2,-3.5 C58.4,-3.1 58.7,-2.7 58.9,-2 C59,-1.4 59.1,-0.4 59.1,0.3 C59,0.9 58.9,1.2 58.8,2.1 C58.8,2.9 59,4.2 59,5.2 C58.9,6.1 58.7,6.8 58.5,7.5 C58.3,8.3 58.1,9.1 57.9,9.7 C57.7,10.4 57.5,11.1 57.2,11.6 C57,12.1 56.7,12.2 56.5,12.8 C56.3,13.3 56.1,14.2 56.1,14.8 C56.1,15.4 56.5,15.8 56.4,16.1 C56.3,16.5 55.8,16.7 55.3,17 C54.8,17.2 54.3,17.4 53.6,17.5 C52.9,17.6 51.7,17.5 51,17.6 C50.3,17.7 49.7,17.9 49.6,18.1 C49.5,18.3 49.8,18.7 50.5,18.8 C51.1,19 52.6,18.7 53.4,18.9 C54.2,19.2 54.9,20.1 55.2,20.4 C55.5,20.8 55.4,20.6 55.4,20.9 C55.4,21.2 55.3,21.8 55.2,22.3 C55.1,22.8 55,23.6 54.7,24 C54.3,24.5 53.6,24.6 53.2,25.1 C52.8,25.6 52.8,26.3 52.4,26.9 C52.1,27.5 51.8,28.2 51.3,28.6 C50.8,28.9 49.9,28.9 49.4,29.2 C49,29.5 48.8,30 48.4,30.4 C48,30.8 47.4,31.2 47,31.8 C46.6,32.4 46.4,33.2 46.1,33.8 C45.9,34.4 45.8,34.8 45.6,35.3 C45.3,35.8 45.1,36.2 44.8,36.7 C44.5,37.3 44.1,38 43.8,38.7 C43.4,39.4 43.3,40.3 42.9,40.9 C42.5,41.5 41.9,42 41.3,42.4 C40.7,42.8 39.9,43 39.3,43.3 C38.7,43.7 38.4,44.3 37.8,44.7 C37.3,45.1 36.8,45.4 36.1,45.7 C35.4,46 34.4,46.3 33.8,46.6 C33.1,46.9 33,47.3 32.4,47.7 C31.7,48 30.6,48.5 30.1,48.6 C29.6,48.8 29.6,48.5 29.1,48.6 C28.7,48.6 28,49 27.5,49 C27.1,49 26.8,48.9 26.3,48.8 C25.8,48.6 24.9,48.5 24.4,48.1 C23.9,47.7 23.9,47 23.4,46.6 C22.9,46.2 21.9,46.1 21.5,45.7 C21,45.3 21,44.7 20.6,44.2 C20.2,43.8 19.4,43.4 19.1,43 C18.7,42.7 18.7,42 18.7,42.1 C18.7,42.2 18.9,42.9 19.1,43.7 C19.3,44.5 19.4,45.9 19.7,46.8 C19.9,47.7 20.4,48.4 20.6,49.1 C20.8,49.8 20.9,50.4 21.1,50.8 C21.2,51.3 21.5,51.4 21.6,51.8 C21.7,52.2 21.9,52.7 21.7,53.1 C21.6,53.6 21.2,54.3 20.8,54.6 C20.4,54.9 19.9,54.6 19.4,54.9 C18.8,55.1 17.9,55.7 17.3,56 C16.6,56.3 16.1,56.7 15.4,56.8 C14.7,57 14,56.8 13.2,56.9 C12.4,57.1 11.5,57.7 10.7,57.9 C9.9,58 9.1,57.9 8.4,57.9 C7.7,57.9 7.2,57.8 6.3,57.8 C5.5,57.8 4.4,57.7 3.4,57.7 C2.3,57.7 1.1,57.8 -0.1,57.7 C-1.2,57.7 -2.3,57.5 -3.4,57.5 C-4.5,57.4 -5.7,57.3 -6.7,57.3 C-7.6,57.3 -8.3,57.4 -9.3,57.4 C-10.2,57.5 -11.4,57.5 -12.2,57.5 C-13,57.5 -13.5,57.7 -13.9,57.5 C-14.4,57.3 -14.7,56.8 -14.9,56.3 C-15.2,55.8 -15.5,55.2 -15.5,54.7 C-15.6,54.1 -15.2,53.6 -15,53 C-14.8,52.5 -14.7,52 -14.5,51.4 C-14.3,50.8 -14.1,50.1 -14,49.6 C-14,49 -13.8,48.4 -14,48.1 C-14.3,47.8 -15,48 -15.7,48 C-16.4,47.9 -17.4,47.6 -18.1,47.5 C-18.7,47.5 -19.3,47.4 -19.7,47.7 C-20.1,47.9 -20.5,48.3 -20.5,49 C-20.6,49.7 -20,51 -20,51.8 C-20,52.5 -20.2,53.1 -20.4,53.5 C-20.6,53.8 -20.8,53.7 -21.1,53.8 C-21.5,54 -22,54.3 -22.4,54.4 C-22.9,54.6 -23.3,54.7 -23.9,54.7 C-24.4,54.6 -24.9,54.4 -25.7,54.1 C-26.5,53.8 -27.7,53.3 -28.5,52.9 C-29.3,52.6 -29.7,52.2 -30.3,51.8 C-31,51.4 -31.7,50.9 -32.4,50.4 C-33.1,49.9 -33.9,49.4 -34.5,48.8 C-35.1,48.2 -35.6,47.4 -35.9,46.8 C-36.3,46.2 -36.3,45.7 -36.6,45.1 C-36.9,44.4 -37.4,43.5 -37.7,42.9 C-38,42.3 -38.1,41.9 -38.2,41.4 C-38.2,40.9 -37.9,40.5 -37.9,39.9 C-37.9,39.3 -38.2,38.5 -38.3,37.9 C-38.4,37.3 -38.1,36.8 -38.4,36.3 C-38.6,35.7 -39.2,35.1 -39.7,34.7 C-40.1,34.2 -40.7,34.1 -41.2,33.7 C-41.6,33.4 -41.8,33 -42.3,32.7 C-42.7,32.4 -43.4,32.4 -43.9,32 C-44.4,31.7 -44.7,31 -45.3,30.8 C-45.8,30.6 -46.6,30.8 -47,30.8 C-47.4,30.7 -47.3,30.6 -47.7,30.4 C-48,30.3 -48.6,30.1 -49.1,29.9 C-49.5,29.6 -50.1,29.5 -50.3,29.2 C-50.5,28.9 -50.5,28.6 -50.5,28.1 C-50.5,27.5 -50,26.6 -50,25.9 C-50.1,25.2 -50.6,24.2 -50.8,23.7 C-51,23.2 -51.1,23.3 -51.3,23 C-51.6,22.7 -52.1,22.2 -52.3,21.9 C-52.6,21.5 -52.8,21.1 -53.1,20.7 C-53.5,20.3 -54,19.9 -54.5,19.6 C-55.1,19.2 -56.1,19 -56.7,18.6 C-57.4,18.1 -58.1,17.7 -58.4,17.1 C-58.8,16.5 -58.8,15.7 -59,15 C-59.2,14.3 -59.4,13.8 -59.5,13 C-59.5,12.2 -59.4,11.1 -59.4,10.1 C-59.3,9 -59.2,7.7 -59.1,6.5 C-59,5.3 -59.1,4 -58.9,3 C-58.7,1.9 -58.3,0.8 -57.9,0.2 C-57.4,-0.5 -56.9,-0.6 -56.2,-0.8 C-55.5,-0.9 -54.4,-0.7 -53.5,-0.7 C-52.7,-0.7 -52,-0.8 -51.1,-0.8 C-50.2,-0.7 -49,-0.5 -48.1,-0.5 C-47.3,-0.4 -46.7,-0.5 -45.9,-0.6 C-45.1,-0.6 -43.8,-0.6 -43.2,-0.7 C-42.6,-0.8 -42.7,-0.9 -42.4,-1.3 C-42.2,-1.6 -41.7,-2.3 -41.6,-2.7 C-41.6,-3.1 -41.8,-3.5 -41.9,-3.9 C-42.1,-4.2 -42.3,-4.4 -42.5,-4.7 C-42.7,-5.1 -42.9,-5.4 -43.2,-5.9 C-43.5,-6.3 -43.9,-7.1 -44.3,-7.3 C-44.6,-7.5 -44.9,-7.2 -45.5,-7.2 C-46.1,-7.3 -47.3,-7.5 -48.1,-7.5 C-48.8,-7.5 -49.3,-7.5 -50,-7.5 C-50.7,-7.4 -51.8,-7.3 -52.5,-7.3 C-53.1,-7.3 -53.6,-7.3 -54.1,-7.3 C-54.7,-7.4 -55.3,-7.4 -55.7,-7.8 C-56.1,-8.2 -56.4,-9 -56.4,-9.8 C-56.4,-10.5 -55.8,-11.6 -55.7,-12.5 C-55.6,-13.4 -55.9,-14.2 -55.7,-15.1 C-55.5,-16 -54.9,-17.1 -54.7,-18 C-54.4,-18.8 -54.4,-19.3 -54.2,-20.2 C-54.1,-21.1 -53.9,-22.4 -53.7,-23.2 C-53.6,-23.9 -53.6,-24.4 -53.5,-24.9 C-53.5,-25.4 -53.4,-25.7 -53.3,-26.2 C-53.1,-26.6 -53.3,-26.9 -52.9,-27.4 C-52.4,-27.9 -51.3,-28.7 -50.4,-29.1 C-49.5,-29.5 -48.3,-29.5 -47.4,-29.9 C-46.6,-30.3 -45.7,-30.7 -45.4,-31.3 C-45,-31.8 -45.2,-32.4 -45.3,-33.1 C-45.4,-33.7 -45.9,-34.4 -46,-35 C-46.1,-35.7 -45.9,-36.4 -45.9,-37.1 C-45.8,-37.7 -45.9,-38.1 -45.6,-38.8 C-45.2,-39.5 -44.4,-40.3 -43.9,-41 C-43.3,-41.7 -42.8,-42.4 -42.3,-43.1 C-41.9,-43.8 -41.7,-44.5 -41.1,-45 C-40.6,-45.4 -39.7,-45.5 -39.2,-46 C-38.7,-46.5 -38.3,-47.6 -37.9,-48.1 C-37.5,-48.6 -37.1,-48.7 -36.9,-49.2 C-36.7,-49.8 -37,-50.9 -36.6,-51.4 C-36.3,-51.9 -35.7,-51.8 -35.1,-52.1 C-34.4,-52.4 -33.6,-52.8 -32.7,-53 C-31.7,-53.2 -30.4,-53.1 -29.3,-53.1 C-28.2,-53.1 -27.2,-53.1 -26.1,-53 C-25,-52.8 -23.9,-52.4 -22.7,-52.2 C-21.5,-52 -20,-51.9 -18.9,-51.9 C-17.9,-51.9 -17.1,-52 -16.4,-52.3 C-15.7,-52.5 -15.1,-53.1 -14.7,-53.4 C-14.3,-53.7 -14.4,-53.7 -14.1,-54 C-13.8,-54.3 -13.3,-54.9 -12.9,-55.2 C-12.5,-55.5 -12.2,-55.7 -11.6,-55.8 C-11.1,-56 -10.1,-55.9 -9.6,-56.1 C-9,-56.2 -8.6,-56.6 -8.2,-56.7 C-7.8,-56.9 -7.5,-56.6 -7,-56.8 C-6.5,-57 -5.4,-57.6 -5,-57.9 C-4.6,-58.1 -5,-58.4 -4.5,-58.4Z" fill="#fff" stroke="#1a1a1a" stroke-width="1.1" stroke-linejoin="round"/><path d="M-12,-54.3 C-10.7,-52.3 -6.5,-41.6 -4.3,-41.8 C-2.2,-42.1 0.2,-53.6 1.1,-56" fill="none" stroke="#9c9c9c" stroke-width="0.7"/><path d="M6.5,-55.4 C8,-51.3 11.2,-33.2 15.2,-30.4 C19.2,-27.7 27.6,-36.4 30.4,-39.1 C33.2,-41.8 31.8,-45.5 32.1,-46.7" fill="none" stroke="#9c9c9c" stroke-width="0.7"/><path d="M18.5,-24.5 C22.3,-24.5 37.1,-23.5 41.3,-25 C45.5,-26.5 47.3,-33.8 43.5,-33.7 C39.7,-33.6 22.6,-26 18.5,-24.5" fill="none" stroke="#9c9c9c" stroke-width="0.7"/><path d="M-42.4,-41.3 C-40,-39.5 -31,-33.5 -28.3,-30.4 C-25.5,-27.4 -26.4,-24.1 -26.1,-22.8" fill="none" stroke="#9c9c9c" stroke-width="0.7"/><path d="M-52.7,-22.8 C-50.8,-23.1 -44.8,-25.2 -41.3,-24.5 C-37.8,-23.7 -34.1,-19.3 -31.5,-18.5 C-29,-17.7 -27,-19.4 -26.1,-19.6" fill="none" stroke="#9c9c9c" stroke-width="0.7"/><path d="M20.7,6 C24.1,5 35.5,-1.5 41.3,0 C47.1,1.5 57.2,13 55.4,15.2 C53.6,17.4 36.2,14.6 30.4,13 C24.6,11.5 22.3,7.2 20.7,6" fill="none" stroke="#9c9c9c" stroke-width="0.7"/><path d="M28.3,27.2 C31,27.7 41.8,29.9 44.6,30.4" fill="none" stroke="#9c9c9c" stroke-width="0.7"/><path d="M28.3,27.2 C28.8,30.3 31,42.6 31.5,45.7" fill="none" stroke="#9c9c9c" stroke-width="0.7"/><path d="M-9.2,29.9 C-9.1,33.1 -7.7,44.5 -8.2,48.9 C-8.6,53.4 -11.3,55.3 -12,56.5" fill="none" stroke="#9c9c9c" stroke-width="0.7"/><path d="M-9.2,29.9 C-7.3,32.3 -1.2,40.7 2.2,44.6 C5.5,48.5 9.2,51.3 10.9,53.3 C12.5,55.3 11.8,56 12,56.5" fill="none" stroke="#9c9c9c" stroke-width="0.7"/><path d="M1.1,41.3 C3.6,41.7 13.8,43.1 16.3,43.5" fill="none" stroke="#9c9c9c" stroke-width="0.7"/><path d="M-56.5,14.1 C-55.6,13.2 -53.4,9.6 -51.1,8.7 C-48.7,7.8 -44.5,7.8 -42.4,8.7 C-40.3,9.6 -37.7,12.1 -38.6,14.1 C-39.5,16.1 -46.3,19.6 -47.8,20.7" fill="none" stroke="#9c9c9c" stroke-width="0.7"/><path d="M-38,15.2 C-37.9,17.9 -39.3,25.2 -37,31.5 C-34.6,37.9 -26.1,49.6 -23.9,53.3" fill="none" stroke="#9c9c9c" stroke-width="0.7"/><path d="M50,-20.7 C49.5,-18.8 47.3,-11.6 46.7,-9.8" fill="none" stroke="#9c9c9c" stroke-width="0.7"/><path d="M13,-41.3 C13.6,-39.5 15.8,-32.2 16.3,-30.4" fill="none" stroke="#9c9c9c" stroke-width="0.7"/><path d="M17.6,-55.1 C17.8,-54.9 18.4,-54.4 18.9,-54.1 C19.5,-53.8 20.2,-53.4 20.7,-53.2 C21.2,-53 21.7,-53.3 22,-53 C22.3,-52.8 22.5,-52 22.7,-51.8 C22.9,-51.5 23,-51.4 23.2,-51.3 C23.4,-51.1 23.6,-51 23.9,-50.8 C24.2,-50.7 24.8,-50.4 25.2,-50.5 C25.5,-50.6 25.6,-51.3 26,-51.5 C26.4,-51.7 27,-51.6 27.5,-51.6 C27.9,-51.5 28.4,-51.2 28.8,-51.1 C29.2,-51 29.6,-51 30,-50.9 C30.5,-50.7 31.1,-50.3 31.6,-50 C32.1,-49.7 32.3,-49.4 32.8,-49.1 C33.3,-48.7 34.3,-48.4 34.8,-47.9 C35.2,-47.5 35.2,-46.7 35.6,-46.1 C35.9,-45.5 36.4,-45.1 36.7,-44.6 C37.1,-44.1 37.4,-43.5 37.7,-43 C38.1,-42.5 38.7,-42 38.9,-41.5 C39.2,-41 39.1,-40.6 39.4,-40.1 C39.6,-39.7 40.1,-39.3 40.4,-38.8 C40.7,-38.3 40.8,-37.7 41.2,-37.3 C41.6,-36.9 42,-36.7 42.5,-36.5 C43.1,-36.2 44,-36.1 44.5,-35.9 C44.9,-35.6 44.9,-35.3 45.3,-35 C45.8,-34.7 46.8,-34.2 47.2,-34 C47.7,-33.8 47.9,-33.8 48.2,-33.6 C48.6,-33.4 49,-33 49.2,-32.6 C49.5,-32.2 49.4,-31.7 49.6,-31.2 C49.8,-30.7 50.3,-30 50.4,-29.5 C50.6,-28.9 50.6,-28.4 50.7,-27.9 C50.8,-27.5 50.7,-27.4 51,-27 C51.3,-26.6 52.3,-25.8 52.7,-25.3 C53,-24.7 52.9,-24.1 53.2,-23.6 C53.5,-23.1 53.9,-22.5 54.2,-22 C54.4,-21.5 54.5,-21.2 54.7,-20.6 C54.9,-20.1 55.3,-19.5 55.4,-18.7 C55.5,-18 55.5,-16.7 55.6,-16 C55.6,-15.3 55.6,-15 55.5,-14.4 C55.4,-13.8 55.1,-12.9 55.1,-12.2 C55.1,-11.5 55.6,-10.7 55.6,-10.1 C55.6,-9.5 55.2,-9.1 55.1,-8.6 C54.9,-8.1 55.2,-7.4 54.7,-7.1 C54.2,-6.8 52.9,-7 51.9,-7 C50.9,-6.9 49.6,-7 48.8,-6.9 C48,-6.9 47.5,-7 46.9,-6.8 C46.2,-6.6 45.4,-6.1 44.9,-5.6 C44.5,-5.2 44.3,-4.5 44.2,-4.2 C44.1,-3.9 43.9,-3.8 44.3,-3.8 C44.7,-3.8 45.7,-3.9 46.6,-4 C47.6,-4.1 48.9,-4.4 49.8,-4.5 C50.7,-4.7 51.3,-4.9 52,-5 C52.7,-5 53.3,-5.1 54,-5 C54.6,-5 55.3,-4.7 56,-4.6 C56.6,-4.5 57.5,-4.5 57.8,-4.3 C58.2,-4.2 58,-3.9 58.2,-3.5 C58.4,-3.1 58.7,-2.7 58.9,-2 C59,-1.4 59.1,-0.4 59.1,0.3 C59,0.9 58.9,1.2 58.8,2.1 C58.8,2.9 59,4.2 59,5.2 C58.9,6.1 58.7,6.8 58.5,7.5 C58.3,8.3 58.1,9.1 57.9,9.7 C57.7,10.4 57.5,11.1 57.2,11.6 C57,12.1 56.7,12.2 56.5,12.8 C56.3,13.3 56.1,14.2 56.1,14.8 C56.1,15.4 56.5,15.8 56.4,16.1 C56.3,16.5 55.8,16.7 55.3,17 C54.8,17.2 54.3,17.4 53.6,17.5 C52.9,17.6 51.7,17.5 51,17.6 C50.3,17.7 49.7,17.9 49.6,18.1 C49.5,18.3 49.8,18.7 50.5,18.8 C51.1,19 52.6,18.7 53.4,18.9 C54.2,19.2 54.9,20.1 55.2,20.4 C55.5,20.8 55.4,20.6 55.4,20.9 C55.4,21.2 55.3,21.8 55.2,22.3 C55.1,22.8 55,23.6 54.7,24 C54.3,24.5 53.6,24.6 53.2,25.1 C52.8,25.6 52.8,26.3 52.4,26.9 C52.1,27.5 51.8,28.2 51.3,28.6 C50.8,28.9 49.9,28.9 49.4,29.2 C49,29.5 48.8,30 48.4,30.4 C48,30.8 47.4,31.2 47,31.8 C46.6,32.4 46.4,33.2 46.1,33.8 C45.9,34.4 45.8,34.8 45.6,35.3 C45.3,35.8 45.1,36.2 44.8,36.7 C44.5,37.3 44.1,38 43.8,38.7 C43.4,39.4 43.3,40.3 42.9,40.9 C42.5,41.5 41.9,42 41.3,42.4 C40.7,42.8 39.9,43 39.3,43.3 C38.7,43.7 38.4,44.3 37.8,44.7 C37.3,45.1 36.8,45.4 36.1,45.7 C35.4,46 34.4,46.3 33.8,46.6 C33.1,46.9 33,47.3 32.4,47.7 C31.7,48 30.6,48.5 30.1,48.6 C29.6,48.8 29.6,48.5 29.1,48.6 C28.7,48.6 28,49 27.5,49 C27.1,49 26.8,48.9 26.3,48.8 C25.8,48.6 24.9,48.5 24.4,48.1 C23.9,47.7 23.9,47 23.4,46.6 C22.9,46.2 21.9,46.1 21.5,45.7 C21,45.3 21,44.7 20.6,44.2 C20.2,43.8 19.4,43.4 19.1,43 C18.7,42.7 18.7,42 18.7,42.1 C18.7,42.2 18.9,42.9 19.1,43.7 C19.3,44.5 19.4,45.9 19.7,46.8 C19.9,47.7 20.4,48.4 20.6,49.1 C20.8,49.8 20.9,50.4 21.1,50.8 C21.2,51.3 21.5,51.4 21.6,51.8 C21.7,52.2 21.9,52.7 21.7,53.1 C21.6,53.6 21.2,54.3 20.8,54.6 C20.4,54.9 19.9,54.6 19.4,54.9 C18.8,55.1 17.9,55.7 17.3,56 C16.6,56.3 16.1,56.7 15.4,56.8 C14.7,57 14,56.8 13.2,56.9 C12.4,57.1 11.5,57.7 10.7,57.9 C9.9,58 9.1,57.9 8.4,57.9 C7.7,57.9 7.2,57.8 6.3,57.8 C5.5,57.8 4.4,57.7 3.4,57.7 C2.3,57.7 1.1,57.8 -0.1,57.7 C-1.2,57.7 -2.8,57.5 -3.4,57.5" fill="none" stroke="#000" stroke-width="2.3" stroke-linecap="round" stroke-linejoin="round"/><line x1="10.9" y1="-45.1" x2="22.8" y2="-50" stroke="#000" stroke-width="2.8" stroke-linecap="round"/><line x1="43.5" y1="-5.4" x2="52.2" y2="-6.7" stroke="#000" stroke-width="2.8" stroke-linecap="round"/><line x1="48.4" y1="17.9" x2="54.3" y2="17.4" stroke="#000" stroke-width="2.8" stroke-linecap="round"/><line x1="18.5" y1="42.4" x2="21.2" y2="47.8" stroke="#000" stroke-width="2.8" stroke-linecap="round"/></g><g id="vit"><polygon points="30.6,-0.4 30,3.5 25.8,3.2 22.3,7.4 29.3,7.9 28.9,11.8 25.8,18.8 20.6,24.1 14.4,27.6 11.8,28.5 7.9,24.1 5.7,23.6 4.4,25.4 1.8,22.3 0,24.1 -0.4,30.6 -5.7,29.8 -11.8,27.1 -14.9,25 -14.9,21.5 -17.1,20.6 -18,23.2 -20.1,21.9 -22.3,18.8 -21.5,16.2 -23.2,15.3 -24.5,17.1 -27.1,13.6 -29.3,9.2 -29.3,8.3 -23.6,8.3 -21.9,3.1 -25.8,2.6 -30.2,0 -30.6,-2.2 -26.7,-4.4 -29.3,-5.7 -30.2,-7.9 -28,-13.6 -24.5,-18.8 -21.9,-21 -18.8,-19.7 -18,-22.3 -20.1,-22.8 -17.1,-25.4 -13.6,-27.1 -10.1,-26.3 -10.5,-28.9 -5.7,-30.6 0.4,-30.6 2.2,-27.6 -0.4,-25.8 0,-24.1 3.1,-25 5.7,-24.1 8.3,-25.4 10.9,-24.1 14,-26.7 18,-24.1 23.2,-18.8 26.7,-13.6 28,-10.9 26.3,-9.2 29.2,-8.8 30.2,-4.8" fill="none" stroke="#111" stroke-width="1.3" stroke-linejoin="round"/></g><g id="wil"><polygon points="0.9,-27.1 1.8,-25.4 3.1,-21 5.7,-25.8 10.5,-25.4 13.6,-23.2 12.7,-18 18.4,-20.1 21.9,-16.6 24.1,-13.6 17.5,-11.8 21,-10.1 27.1,-9.2 28.5,-5.3 29.3,0.9 28,9.6 18.4,10.5 23.2,14.9 21,19.3 17.5,22.3 9.6,19.3 10.5,24.5 9.2,26.7 3.5,28 0,25.4 -2.2,21 -3.5,26.7 -8.8,25.4 -11.4,22.8 -11.8,17.1 -15.8,21.5 -19.3,17.5 -23.6,10.5 -19.7,5.3 -26.3,3.9 -26.3,-3.5 -24.5,-8.3 -18.8,-9.2 -23.2,-12.3 -20.1,-16.6 -14.9,-21.5 -8.8,-18 -9.6,-24.5 -5.3,-26.3" fill="none" stroke="#333" stroke-width="1" stroke-linejoin="round"/><circle r="1.7" fill="#fff" stroke="#333" stroke-width="0.8"/></g><g id="bld"><path d="M-10.5,1.5 L-9,-3.5 L-4,-6 L3,-6.2 L8.5,-4 L10.5,0 L9,4 L3,6 L-4,5.8 L-9,4.5Z" fill="#fff" stroke="#222" stroke-width="1.1" stroke-linejoin="round"/><path d="M-9,-3.5 L-5,-1.5 L4,-2.2 L8.5,-4 M-5,-1.5 L-9,4.5 M4,-2.2 L9,4" fill="none" stroke="#444" stroke-width="0.7"/><path d="M-8,3.6 L-4.5,-1 M-6,4.6 L-2,-1.3 M-3.5,5.2 L0.5,-1.6 M-1,5.6 L3,-1.8 M2,5.6 L5,-0.5 M5,5 L7.5,0.8" stroke="#777" stroke-width="0.55"/></g>
</defs>
<g opacity="0.999">
<line x1="146" y1="0" x2="0" y2="232" stroke="#9d9d9d" stroke-width="0.85" stroke-dasharray="39.7 6.8 8.5 6.8 8.5 6.8" stroke-dashoffset="25.5"/>
<line x1="890.4" y1="0" x2="1236" y2="561.5" stroke="#9d9d9d" stroke-width="0.85" stroke-dasharray="39.7 6.8 8.5 6.8 8.5 6.8" stroke-dashoffset="44.6"/>
<line x1="0" y1="508" x2="270" y2="1066.5" stroke="#9d9d9d" stroke-width="0.85" stroke-dasharray="39.7 6.8 8.5 6.8 8.5 6.8" stroke-dashoffset="15.9"/>
<line x1="208.6" y1="708.4" x2="227.2" y2="708.4" stroke="#9d9d9d" stroke-width="0.85" />
<line x1="251.1" y1="708.4" x2="259" y2="708.4" stroke="#9d9d9d" stroke-width="0.85" />
<line x1="265.7" y1="708.4" x2="273.7" y2="708.4" stroke="#9d9d9d" stroke-width="0.85" />
<line x1="281.6" y1="708.4" x2="316.2" y2="708.4" stroke="#9d9d9d" stroke-width="0.85" />
<line x1="208.6" y1="708.4" x2="214" y2="718.6" stroke="#9d9d9d" stroke-width="0.85" />
<line x1="208.6" y1="708.4" x2="397.6" y2="1066.5" stroke="#9d9d9d" stroke-width="0.85" stroke-dasharray="39.7 6.8 8.5 6.8 8.5 6.8" stroke-dashoffset="66.2"/>
<polygon points="440,-10.7 440.2,-9.9 440.5,-9 440.8,-7.9 441.1,-6.7 441.5,-5.2 441.9,-3.7 442.4,-1.9 442.9,0 443.5,2.1 444.1,4.5 444.8,7.1 445.5,9.8 446.3,12.7 447.1,15.6 447.9,18.5 448.7,21.3 449.5,24.2 450.3,27.1 451.1,30 451.9,33 452.8,36 453.7,39 454.6,42 455.5,45.1 456.4,48.1 457.3,51.1 458.3,54.2 459.3,57.3 460.3,60.4 461.3,63.5 462.4,66.6 463.6,69.8 464.9,73.1 466.2,76.3 467.5,79.7 468.9,83 470.4,86.4 471.9,89.7 473.4,93.1 475,96.5 476.6,100 478.4,103.5 480.1,107.1 482,110.7 483.8,114.2 485.7,117.7 487.5,121.1 489.3,124.4 491,127.5 492.7,130.6 494.4,133.7 496.2,136.6 497.9,139.5 499.5,142.4 501.2,145.2 502.9,147.9 504.6,150.7 506.3,153.3 508,155.9 509.7,158.4 511.4,161 513.1,163.5 514.8,166 516.6,168.6 518.4,171.2 520.3,173.8 522.2,176.4 524.1,179 526.1,181.7 528.1,184.3 530,186.9 532,189.5 534.1,192.2 536.1,194.8 538.2,197.4 540.3,200.1 542.5,202.7 544.6,205.3 546.7,207.9 548.8,210.5 550.9,213 552.9,215.6 555,218.1 557.1,220.6 559.2,223.1 561.2,225.5 563.3,228 565.3,230.3 567.3,232.6 569.2,234.9 571.2,237.2 573.1,239.4 575.1,241.6 577,243.7 579,245.9 581,248.1 583,250.2 585.1,252.3 587.1,254.4 589.2,256.5 591.3,258.6 593.4,260.6 595.6,262.7 597.7,264.8 599.9,266.9 602.1,269 604.3,271.1 606.5,273.2 608.7,275.3 610.9,277.4 613.2,279.5 615.4,281.6 617.6,283.7 619.9,285.8 622.1,288 624.3,290.1 626.6,292.2 628.8,294.2 631,296.3 633.1,298.2 635.3,300.2 637.4,302.1 639.5,304 641.5,305.9 643.6,307.7 645.6,309.5 647.5,311.2 649.4,312.9 651.3,314.5 653.3,316.2 655.2,317.8 657.1,319.4 658.9,320.9 660.5,322.2 661.8,323.3 662.8,324.1 665,321.5 665.3,320.9 665.8,320.1 666.3,319.1 666.9,318.1 667.5,316.9 668.1,315.7 668.6,314.6 669,313.5 669.3,312.4 669.6,311.4 669.9,310.3 670.1,309.2 670.2,308.1 670.3,307 670.3,305.9 670.3,304.7 670.2,303.5 670,302.3 669.8,301 669.5,299.7 669.1,298.5 668.7,297.2 668.2,296 667.7,294.9 667.1,293.8 666.4,292.7 665.7,291.7 664.9,290.7 664.1,289.7 663.3,288.7 662.4,287.8 661.5,286.9 660.6,286.1 659.7,285.3 658.8,284.5 657.8,283.8 656.9,283.1 655.8,282.4 654.7,281.6 653.5,280.7 652.2,279.8 650.9,278.8 649.4,277.8 647.9,276.8 646.4,275.7 644.9,274.6 643.3,273.5 641.8,272.3 640.2,271.2 638.7,270 637.2,268.8 635.6,267.5 634,266.3 632.4,264.9 630.8,263.6 629.1,262.1 627.5,260.6 625.8,259.1 624.1,257.5 622.4,255.9 620.6,254.2 618.8,252.4 617,250.6 615.1,248.7 613.2,246.8 611.2,244.7 609.2,242.6 607.1,240.5 605.1,238.2 602.9,236 600.8,233.7 598.6,231.3 596.3,228.9 594,226.4 591.6,223.9 589.2,221.3 586.8,218.6 584.4,216 582.1,213.4 579.7,210.8 577.4,208.1 575.1,205.5 572.8,202.8 570.5,200.2 568.2,197.5 566,194.8 563.8,192.2 561.6,189.5 559.5,186.9 557.4,184.3 555.4,181.6 553.4,179 551.4,176.4 549.5,173.8 547.5,171.2 545.6,168.6 543.8,166 542,163.5 540.2,161 538.5,158.4 536.7,155.9 535,153.3 533.3,150.7 531.5,147.9 529.7,145.2 528,142.4 526.3,139.5 524.5,136.6 522.8,133.7 521,130.6 519.2,127.5 517.5,124.4 515.6,121.1 513.7,117.7 511.9,114.2 510,110.7 508.1,107.1 506.2,103.5 504.4,100 502.7,96.5 501,93.1 499.4,89.7 497.8,86.4 496.3,83 494.8,79.7 493.3,76.3 492,73.1 490.6,69.8 489.4,66.6 488.2,63.5 487,60.4 485.9,57.3 484.9,54.2 483.9,51.1 482.9,48.1 481.9,45.1 480.9,42 480,39 479.1,36 478.2,33 477.3,30 476.5,27.1 475.6,24.2 474.8,21.3 474,18.5 473.2,15.6 472.4,12.7 471.6,9.8 470.9,7.1 470.1,4.5 469.5,2.1 468.9,0 468.4,-1.9 467.9,-3.7 467.4,-5.2 467,-6.7 466.7,-7.9 466.4,-9 466.1,-9.9 465.9,-10.7" fill="url(#stip)" stroke="none"/>
<polygon points="568.9,-11.5 569.3,-10.7 569.7,-9.7 570.1,-8.6 570.6,-7.2 571.3,-5.7 571.9,-4 572.7,-2.1 573.5,0 574.4,2.3 575.4,4.9 576.5,7.8 577.7,10.7 578.9,13.8 580.1,17 581.4,20.1 582.6,23.1 583.9,26 585.2,29 586.5,32 587.9,35.1 589.3,38.1 590.8,41.2 592.2,44.2 593.8,47.3 595.3,50.4 597,53.6 598.7,56.7 600.4,59.9 602.1,63.1 603.9,66.2 605.6,69.2 607.3,72.1 609,74.9 610.6,77.7 612.3,80.5 614,83.2 615.7,85.8 617.3,88.3 618.9,90.7 620.4,93 621.9,95.2 623.3,97.2 624.6,99.1 625.9,100.9 627.2,102.6 628.5,104.4 629.8,106.1 631.1,107.9 632.5,109.7 633.8,111.5 635.2,113.2 636.5,115 637.9,116.8 639.3,118.5 640.7,120.3 642.1,122.1 643.6,123.9 645,125.8 646.5,127.7 648.1,129.6 649.6,131.5 651.1,133.4 652.7,135.2 654.2,137 655.7,138.7 657.2,140.4 658.7,142.1 660.1,143.8 661.6,145.4 663.1,147 664.7,148.7 666.2,150.3 667.8,151.9 669.4,153.5 671,155.2 672.6,156.8 674.3,158.4 675.9,160 677.6,161.6 679.3,163.2 681,164.8 682.7,166.5 684.5,168.1 686.2,169.7 688,171.4 689.8,173 691.5,174.7 693.3,176.3 695,177.9 696.8,179.5 698.5,181.1 700.2,182.8 701.9,184.4 703.6,186 705.4,187.6 707.2,189.2 709,190.8 710.8,192.5 712.7,194.1 714.6,195.8 716.4,197.4 718.3,199.1 720.3,200.7 722.2,202.3 724.2,203.9 726.1,205.5 728.2,207.1 730.2,208.6 732.2,210.2 734.2,211.7 736.3,213.2 738.3,214.6 740.3,216 742.4,217.4 744.4,218.8 746.4,220.1 748.4,221.4 750.5,222.7 752.4,223.9 754.4,225.1 756.3,226.2 758.3,227.3 760.2,228.4 762,229.5 763.9,230.5 765.8,231.4 767.6,232.4 769.4,233.3 771.1,234.2 772.8,235 774.4,235.8 776.1,236.6 777.7,237.4 779.3,238.2 781,238.9 782.6,239.8 784.4,240.6 786.1,241.5 787.8,242.3 789.5,243.2 791.2,244.1 793,245 794.8,246 796.6,247 798.5,248.1 800.4,249.2 802.3,250.3 804.3,251.5 806.2,252.7 808.2,253.9 810.2,255.2 812.2,256.4 814.2,257.7 816.2,259.1 818.2,260.4 820.2,261.8 822.2,263.2 824.3,264.6 826.3,266.1 828.3,267.5 830.3,268.9 832.3,270.4 834.3,271.9 836.3,273.4 838.3,274.9 840.3,276.4 842.4,277.9 844.3,279.4 846.3,281 848.3,282.5 850.3,284 852.3,285.5 854.3,287 856.3,288.6 858.3,290.2 860.3,291.8 862.3,293.4 864.2,295.1 866.2,296.8 868.2,298.4 870.2,300.2 872.2,301.9 874.2,303.8 876.2,305.6 878.2,307.6 880.2,309.6 882.2,311.7 884.2,313.8 886.2,315.9 888.2,318.1 890.2,320.3 892.2,322.5 894.2,324.7 896.2,327 898.2,329.3 900.2,331.7 902.2,334.1 904.2,336.4 906.2,338.8 908.3,341.2 910.4,343.6 912.5,346 914.6,348.4 916.8,350.8 919,353.3 921.2,355.8 923.4,358.3 925.6,360.9 928,363.5 930.3,366.1 932.7,368.7 935.2,371.5 937.6,374.2 940,377 942.4,379.9 944.7,382.9 947,385.9 949.3,389.1 951.6,392.3 953.9,395.6 956.1,398.9 958.2,402.3 960.2,405.7 962.1,409.1 963.9,412.6 965.6,416.1 967.2,419.8 968.7,423.4 970.2,427.1 971.5,430.7 972.8,434.3 974,437.8 975,441.2 976,444.5 976.9,447.8 977.7,451 978.4,454.3 979,457.7 979.6,461.2 980,465 980.3,468.9 980.5,472.8 980.5,476.8 980.5,481 980.5,485.3 980.4,489.9 980.3,494.8 980.3,500 980.3,506 980.3,512.9 980.3,520.3 980.3,527.8 980.3,535 980.3,541.6 980.3,547.1 980.3,551.2 1005.6,551.2 1005.6,547.1 1005.6,541.6 1005.6,535 1005.6,527.8 1005.6,520.3 1005.6,512.9 1005.6,506 1005.6,500 1005.6,494.8 1005.7,490 1005.7,485.6 1005.8,481.3 1005.8,477.2 1005.7,473.2 1005.4,469.1 1005,465 1004.4,460.8 1003.7,456.8 1002.9,452.7 1001.9,448.7 1000.9,444.7 999.8,440.8 998.6,436.9 997.5,433 996.2,429.1 994.9,425.2 993.5,421.2 992,417.4 990.5,413.5 989,409.8 987.4,406.1 985.8,402.6 984.1,399.2 982.3,395.9 980.5,392.7 978.7,389.6 976.9,386.6 975,383.6 973.1,380.8 971.2,378 969.4,375.4 967.5,372.9 965.7,370.5 963.8,368.2 961.9,366 960,363.7 958.1,361.5 956.2,359.2 954.2,356.9 952.3,354.7 950.4,352.5 948.4,350.2 946.4,348 944.5,345.8 942.5,343.5 940.5,341.2 938.5,338.9 936.5,336.5 934.5,334.2 932.5,331.8 930.5,329.4 928.4,327 926.4,324.7 924.4,322.3 922.4,320 920.4,317.6 918.4,315.3 916.4,312.9 914.3,310.6 912.3,308.3 910.3,306 908.3,303.8 906.3,301.6 904.3,299.4 902.3,297.2 900.2,295 898.2,292.9 896.2,290.8 894.2,288.7 892.2,286.7 890.2,284.7 888.2,282.8 886.2,280.9 884.2,279.1 882.2,277.2 880.2,275.5 878.2,273.7 876.2,272 874.2,270.3 872.2,268.7 870.2,267.1 868.2,265.6 866.2,264 864.2,262.5 862.3,261 860.3,259.5 858.3,258 856.3,256.5 854.3,255.1 852.3,253.7 850.3,252.2 848.3,250.8 846.3,249.4 844.3,248 842.4,246.6 840.4,245.2 838.4,243.9 836.4,242.5 834.4,241.2 832.4,239.8 830.4,238.5 828.3,237.1 826.2,235.7 824.1,234.4 821.9,233 819.7,231.7 817.5,230.3 815.3,229 813,227.6 810.7,226.2 808.3,224.8 805.8,223.4 803.3,222 800.8,220.6 798.2,219.2 795.7,217.8 793.2,216.4 790.7,215 788.2,213.6 785.7,212.3 783.3,210.9 780.8,209.6 778.4,208.3 776,207 773.6,205.6 771.4,204.3 769.1,203 766.9,201.8 764.8,200.5 762.7,199.2 760.7,198 758.6,196.7 756.5,195.3 754.4,193.9 752.3,192.4 750.2,190.9 748.1,189.3 746,187.8 743.8,186.1 741.7,184.5 739.6,182.7 737.4,181 735.2,179.1 733,177.2 730.7,175.3 728.5,173.3 726.2,171.3 723.9,169.2 721.7,167.2 719.5,165.2 717.3,163.2 715.2,161.3 713,159.3 710.9,157.3 708.8,155.3 706.7,153.3 704.6,151.3 702.5,149.3 700.4,147.3 698.4,145.3 696.4,143.3 694.3,141.3 692.3,139.3 690.3,137.3 688.4,135.2 686.4,133.2 684.5,131.1 682.5,129.1 680.6,127 678.7,124.9 676.8,122.8 674.9,120.8 673.1,118.7 671.3,116.7 669.6,114.7 667.9,112.8 666.2,110.8 664.6,108.9 663,107 661.4,105 659.8,103.1 658.2,101.2 656.6,99.3 655.1,97.4 653.6,95.6 652.1,93.7 650.6,91.8 649.1,89.9 647.5,87.9 646,85.9 644.3,83.8 642.7,81.7 641.1,79.5 639.4,77.3 637.7,75 636.1,72.7 634.4,70.3 632.7,67.8 631,65.2 629.3,62.6 627.6,59.8 625.9,57.1 624.2,54.2 622.5,51.4 620.9,48.5 619.3,45.7 617.8,42.8 616.3,39.9 614.9,37 613.5,34.1 612.2,31.2 610.9,28.3 609.6,25.4 608.4,22.5 607.2,19.6 606,16.6 604.8,13.5 603.7,10.5 602.7,7.6 601.7,4.8 600.7,2.3 599.9,0 599.1,-2 598.4,-3.9 597.8,-5.5 597.3,-7 596.8,-8.4 596.3,-9.5 596,-10.5 595.7,-11.3" fill="url(#stip)" stroke="none"/>
<path d="M434.3,-10.7 C434.8,-8.9 435.7,-5.3 437.1,0 C438.5,5.3 440.7,13.8 442.7,21.3 C444.8,28.8 447,37 449.5,45.1 C452,53.2 454.8,62 457.6,69.8 C460.4,77.7 463.5,85.3 466.4,92.1 C469.3,98.9 472,104.5 475,110.5 C477.9,116.5 480.8,122.1 484.2,128.3 C487.7,134.6 491.5,141.2 495.6,147.9 C499.8,154.7 504.4,161.7 509.2,168.6 C514.1,175.5 519.3,182.5 524.7,189.5 C530,196.5 535.6,203.3 541.5,210.5 C547.3,217.6 553.5,225.1 559.8,232.4 C566.1,239.7 572.9,247.5 579.2,254.2 C585.5,261 591.7,267 597.7,272.9 C603.7,278.8 609.6,284.1 615.4,289.4 C621.2,294.7 627.4,300.3 632.7,304.9 C637.9,309.4 642.9,313.6 646.8,316.9 C650.6,320.2 654.2,323.3 655.7,324.6" fill="none" stroke="#111" stroke-width="1.15" />
<path d="M440,-10.7 C440.5,-8.9 441.5,-5.3 442.9,0 C444.3,5.3 446.6,13.8 448.7,21.3 C450.8,28.8 453,37 455.5,45.1 C458,53.2 460.4,61.2 463.6,69.8 C466.9,78.4 470.7,87.5 475,96.5 C479.2,105.6 484.6,115.8 489.3,124.4 C493.9,132.9 498.4,140.6 502.9,147.9 C507.5,155.3 511.7,161.7 516.6,168.6 C521.4,175.5 526.7,182.5 532,189.5 C537.4,196.5 543.2,203.7 548.8,210.5 C554.3,217.3 559.9,224.1 565.3,230.3 C570.6,236.6 575.6,242.3 581,248.1 C586.4,253.8 592,259.2 597.7,264.8 C603.4,270.4 609.5,276.1 615.4,281.6 C621.3,287.2 627.5,293 633.1,298.2 C638.8,303.5 644.5,308.5 649.4,312.9 C654.4,317.2 660.6,322.2 662.8,324.1" fill="none" stroke="#111" stroke-width="1.35" />
<path d="M465.9,-10.7 C466.4,-8.9 467.4,-5.3 468.9,0 C470.4,5.3 472.7,13.8 474.8,21.3 C477,28.8 479.2,37 481.9,45.1 C484.5,53.2 487.2,61.2 490.6,69.8 C494.1,78.4 498.2,87.5 502.7,96.5 C507.2,105.6 512.7,115.8 517.5,124.4 C522.2,132.9 526.8,140.6 531.5,147.9 C536.2,155.3 540.6,161.7 545.6,168.6 C550.7,175.5 555.9,182.5 561.6,189.5 C567.3,196.6 573.6,203.8 579.7,210.8 C585.9,217.7 592.7,225 598.6,231.3 C604.5,237.6 610,243.6 615.1,248.7 C620.2,253.9 624.7,258.2 629.1,262.1 C633.6,266.1 637.7,269.2 641.8,272.3 C645.8,275.4 650.2,278.3 653.5,280.7 C656.8,283.1 659.1,284.5 661.5,286.9 C663.9,289.3 666.2,291.9 667.7,294.9 C669.2,297.9 670.1,301.6 670.3,304.7 C670.5,307.8 669.9,310.7 669,313.5 C668.1,316.3 666.9,319 665,321.5 C663.1,324 660,326.8 657.9,328.6 C655.8,330.4 656.7,330.6 652.6,332.1 C648.5,333.6 640.8,335.3 633.1,337.4 C625.4,339.5 611,343.3 606.6,344.5" fill="none" stroke="#111" stroke-width="1.7" />
<line x1="655.7" y1="324.6" x2="606.6" y2="338.3" stroke="#111" stroke-width="1.15" />
<path d="M602.5,-11.3 C603.2,-9.4 604.6,-5.6 606.7,0 C608.8,5.6 611.9,14.9 615.2,22.5 C618.4,30.1 621.9,38 626,45.7 C630.2,53.3 635.2,61.4 639.8,68.4 C644.4,75.4 649.3,81.8 653.7,87.7 C658.1,93.6 662,98.4 666.2,103.6 C670.5,108.8 674.6,113.7 679.3,118.9 C684,124.1 689.1,129.5 694.4,134.8 C699.7,140.1 705.2,145.3 711.4,150.7 C717.5,156.1 724.4,161.8 731.2,167.2 C738.1,172.6 745.6,178.4 752.3,183.2 C759,188 765,191.9 771.4,196 C777.7,200.1 784.1,203.8 790.7,207.6 C797.2,211.5 804.4,215.5 810.7,219.2 C816.9,222.8 822.7,226.2 828.3,229.7 C833.9,233.2 839,236.5 844.3,240.1 C849.7,243.8 855,247.5 860.3,251.4 C865.6,255.4 870.9,259.5 876.2,263.9 C881.5,268.4 886.8,273.1 892.2,278.2 C897.6,283.3 902.9,288.8 908.3,294.5 C913.7,300.3 918.9,306.3 924.4,312.7 C929.9,319 935.6,325.8 941.4,332.6 C947.1,339.4 953.4,346.3 959.2,353.4 C964.9,360.4 970.7,367 976,374.7 C981.2,382.4 986.4,390.6 990.7,399.5 C995.1,408.4 999.1,419.2 1002.1,428.3 C1005,437.4 1006.9,447 1008.3,454.1 C1009.7,461.3 1010.3,468.4 1010.7,471.3" fill="none" stroke="#111" stroke-width="1.15" />
<path d="M595.7,-11.3 C596.4,-9.4 597.8,-5.6 599.9,0 C602,5.6 605.1,14.9 608.4,22.5 C611.6,30.1 615.2,38.1 619.3,45.7 C623.4,53.2 628.3,61.1 632.7,67.8 C637.2,74.5 641.7,80.3 646,85.9 C650.2,91.5 654,96.1 658.2,101.2 C662.4,106.3 666.6,111.4 671.3,116.7 C676,122 681.2,127.8 686.4,133.2 C691.6,138.6 697,144 702.5,149.3 C708,154.6 713.7,159.9 719.5,165.2 C725.3,170.5 731.6,176.2 737.4,181 C743.2,185.8 748.7,190 754.4,193.9 C760.1,197.8 765.3,200.8 771.4,204.3 C777.4,207.8 784.1,211.3 790.7,215 C797.2,218.6 804.4,222.5 810.7,226.2 C816.9,229.9 822.7,233.5 828.3,237.1 C833.9,240.7 839,244.3 844.3,248 C849.7,251.7 855,255.5 860.3,259.5 C865.6,263.5 870.9,267.5 876.2,272 C881.5,276.5 886.8,281.4 892.2,286.7 C897.6,292 902.9,297.9 908.3,303.8 C913.7,309.7 919,316.1 924.4,322.3 C929.8,328.5 935.2,335.1 940.5,341.2 C945.8,347.4 951,353.1 956.2,359.2 C961.3,365.4 966.3,370.8 971.2,378 C976.2,385.2 981.4,393.5 985.8,402.6 C990.1,411.8 994.2,422.6 997.5,433 C1000.7,443.4 1003.6,453.8 1005,465 C1006.4,476.2 1005.5,485.6 1005.6,500 C1005.7,514.4 1005.6,542.7 1005.6,551.2" fill="none" stroke="#111" stroke-width="1.35" />
<path d="M568.9,-11.5 C569.7,-9.6 571.2,-5.8 573.5,0 C575.8,5.8 579.2,15.2 582.6,23.1 C586,31 589.6,39.1 593.8,47.3 C597.9,55.5 602.8,64.5 607.3,72.1 C611.7,79.7 616.4,87.1 620.4,93 C624.4,99 627.5,103.1 631.1,107.9 C634.8,112.7 638.3,117.2 642.1,122.1 C645.9,126.9 650.2,132.3 654.2,137 C658.2,141.7 662,145.9 666.2,150.3 C670.4,154.7 674.8,158.9 679.3,163.2 C683.8,167.5 688.6,172 693.3,176.3 C697.9,180.6 702.4,184.9 707.2,189.2 C712,193.5 717,198.1 722.2,202.3 C727.4,206.5 732.9,210.8 738.3,214.6 C743.7,218.4 749.2,222 754.4,225.1 C759.6,228.2 764.6,230.9 769.4,233.3 C774.1,235.8 778.1,237.5 782.6,239.8 C787.2,242.1 791.7,244.2 796.6,247 C801.5,249.8 806.9,253 812.2,256.4 C817.5,259.8 822.9,263.7 828.3,267.5 C833.7,271.3 839,275.4 844.3,279.4 C849.7,283.5 855,287.4 860.3,291.8 C865.6,296.2 870.9,300.5 876.2,305.6 C881.5,310.8 886.8,316.6 892.2,322.5 C897.6,328.4 902.7,334.8 908.3,341.2 C913.9,347.6 919.6,353.9 925.6,360.9 C931.7,367.8 938.6,374.8 944.7,382.9 C950.8,390.9 957.2,399.9 962.1,409.1 C967,418.3 971,428.5 974,437.8 C976.9,447.1 978.9,454.6 980,465 C981.1,475.4 980.2,485.6 980.3,500 C980.3,514.4 980.3,542.7 980.3,551.2" fill="none" stroke="#111" stroke-width="1.7" />
<line x1="980.3" y1="551.2" x2="1005.6" y2="551.2" stroke="#111" stroke-width="1.3" />
<use href="#oak" x="237.4" y="91.3" />
<use href="#oak" x="407.5" y="171" />
<use href="#oak" x="725.4" y="5.5" />
<use href="#oak" x="905" y="1691" />
<circle cx="928.7" cy="191.5" r="49" fill="none" stroke="#6e6e6e" stroke-width="0.8"/>
<rect x="926.6" y="189.4" width="4.2" height="4.2" fill="#777" stroke="none" stroke-width="1" />
<circle cx="928.7" cy="191.5" r="3" fill="#999" opacity="0.6"/>
<polygon points="402.4,345 606.3,345 622,456.4 402.4,456.4" fill="url(#stip)" stroke="#555" stroke-width="1.5" />
<line x1="606.3" y1="345" x2="622" y2="456.4" stroke="#111" stroke-width="1.3" />
<rect x="377.5" y="320" width="228.8" height="19" fill="#fff" stroke="#111" stroke-width="1.5" />
<rect x="377.5" y="339" width="19.4" height="123.4" fill="#fff" stroke="#111" stroke-width="1.5" />
<rect x="377.5" y="462.4" width="213.7" height="17.6" fill="#fff" stroke="#111" stroke-width="1.5" />
<line x1="396.9" y1="339" x2="606.3" y2="339" stroke="#111" stroke-width="1.3" />
<line x1="396.9" y1="462.4" x2="591" y2="462.4" stroke="#111" stroke-width="1.3" />
<line x1="396.9" y1="339" x2="396.9" y2="462.4" stroke="#111" stroke-width="1.3" />
<line x1="606.3" y1="339" x2="606.3" y2="345" stroke="#111" stroke-width="1.3" />
<line x1="455.5" y1="320" x2="455.5" y2="339" stroke="#111" stroke-width="1.3" />
<line x1="528.7" y1="320" x2="528.7" y2="339" stroke="#111" stroke-width="1.3" />
<line x1="455.5" y1="462.4" x2="455.5" y2="480" stroke="#111" stroke-width="1.3" />
<line x1="523.2" y1="462.4" x2="523.2" y2="480" stroke="#111" stroke-width="1.3" />
<rect x="591.2" y="456.4" width="30.3" height="30.3" fill="#fff" stroke="#222" stroke-width="1.6" />
<use href="#aga" x="607.8" y="471" />
<use href="#mis" x="385.7" y="329.4" />
<use href="#mis" x="401.2" y="329.4" />
<use href="#mis" x="416.5" y="329.4" />
<use href="#mis" x="431.8" y="329.4" />
<use href="#mis" x="447.3" y="329.4" />
<use href="#jun" x="462.8" y="329.6" />
<use href="#jun" x="476.9" y="329.6" />
<use href="#jun" x="491.4" y="329.6" />
<use href="#jun" x="505.9" y="329.6" />
<use href="#jun" x="519.8" y="329.6" />
<use href="#lan" x="537.7" y="326.3" />
<use href="#lan" x="549.8" y="332.3" />
<use href="#lan" x="562.4" y="326.3" />
<use href="#lan" x="574.9" y="332.7" />
<use href="#lan" x="586" y="325.7" />
<use href="#lan" x="597.8" y="331.7" />
<use href="#iris" x="385.1" y="346.2" />
<use href="#iris" x="390.5" y="357.7" />
<use href="#iris" x="383.9" y="369.2" />
<use href="#iris" x="390.5" y="380" />
<use href="#iris" x="385.1" y="423.5" />
<use href="#iris" x="391.1" y="435.6" />
<use href="#iris" x="383.9" y="446.5" />
<use href="#iris" x="390.5" y="456.7" />
<use href="#flax" transform="translate(380.9,388.4) scale(1.15)"/>
<use href="#flax" transform="translate(391.2,393.3) scale(1.15)"/>
<use href="#flax" transform="translate(381.5,401.5) scale(1.15)"/>
<use href="#flax" transform="translate(390.5,408.1) scale(1.15)"/>
<use href="#lan" x="386.5" y="468.8" />
<use href="#lan" x="399" y="474.2" />
<use href="#lan" x="411" y="468.8" />
<use href="#lan" x="423.5" y="474.2" />
<use href="#lan" x="435.2" y="467.6" />
<use href="#lan" x="446.7" y="473.6" />
<use href="#jun" x="462.4" y="471.6" />
<use href="#jun" x="476" y="471.6" />
<use href="#jun" x="489.6" y="471.6" />
<use href="#jun" x="502.9" y="471.6" />
<use href="#jun" x="516.1" y="471.6" />
<use href="#mis" x="532" y="471.6" />
<use href="#mis" x="544.7" y="471.6" />
<use href="#mis" x="557.4" y="471.6" />
<use href="#mis" x="570" y="471.6" />
<use href="#mis" x="582.7" y="471.6" />
<polygon points="377.5,480 591.2,480 591.2,486.8 621.8,486.8 621.8,551.7 566,551.7 566,560 528.5,560 528.5,504.4 354,504.4 343,514 332,503 338,488 352,480" fill="url(#stip)" stroke="none"/>
<circle cx="548.5" cy="537.3" r="29.5" fill="#fff"/>
<path d="M377.5,480 Q362,479 355.8,478.8 Q346,482 341.3,488 Q335,497 334,508" fill="none" stroke="#333" stroke-width="0.9" />
<path d="M354.1,508.5 Q350,510 346.2,512.2" fill="none" stroke="#333" stroke-width="0.9" />
<use href="#bld" transform="translate(346.2,475) rotate(-28) scale(0.98)"/>
<use href="#bld" transform="translate(365.5,470.8) rotate(-20) scale(1.1)"/>
<use href="#bld" transform="translate(333.8,497.2) rotate(-60) scale(1.15)"/>
<use href="#bld" transform="translate(338.4,516.5) rotate(-27) scale(1.18)"/>
<use href="#bld" transform="translate(546.6,498.6) rotate(8) scale(1.15)"/>
<use href="#bld" transform="translate(576.5,516) rotate(52) scale(1.1)"/>
<use href="#bld" transform="translate(607.7,504) rotate(-78) scale(1.05)"/>
<use href="#bld" transform="translate(608.3,531.2) rotate(68) scale(1.15)"/>
<polyline points="354.1,573.9 354.1,504.4 528.5,504.4" fill="none" stroke="#111" stroke-width="1.3" />
<line x1="354.1" y1="573.9" x2="378.8" y2="573.9" stroke="#555" stroke-width="1" />
<rect x="354.6" y="505" width="47.8" height="22" fill="#fff" stroke="none" stroke-width="1" />
<rect x="354.6" y="505" width="24" height="68.5" fill="#fff" stroke="none" stroke-width="1" />
<rect x="479.6" y="505" width="48.4" height="22" fill="#fff" stroke="none" stroke-width="1" />
<rect x="505" y="527" width="23" height="51" fill="#fff" stroke="none" stroke-width="1" />
<rect x="354.6" y="505" width="47.8" height="22" fill="url(#stip)" stroke="none" stroke-width="1" />
<rect x="354.6" y="527" width="24" height="46.5" fill="url(#stip)" stroke="none" stroke-width="1" />
<rect x="479.6" y="505" width="48.4" height="22" fill="url(#stip)" stroke="none" stroke-width="1" />
<rect x="505" y="527" width="23" height="51" fill="url(#stip)" stroke="none" stroke-width="1" />
<polyline points="354.1,573.9 354.1,504.4 528.5,504.4" fill="none" stroke="#111" stroke-width="1.3" />
<use href="#lig" x="361.3" y="511" />
<use href="#lig" x="372.2" y="518.9" />
<use href="#lig" x="382.2" y="509.9" />
<use href="#lig" x="393.3" y="518.9" />
<use href="#lig" x="362.5" y="531.6" />
<use href="#lig" x="372.6" y="542.5" />
<use href="#lig" x="362.5" y="553.3" />
<use href="#lig" x="371.6" y="565.4" />
<rect x="402.4" y="504.4" width="77.2" height="23.5" fill="#fff" stroke="#333" stroke-width="1.2" />
<clipPath id="hc"><rect x="402.4" y="504.4" width="77.2" height="23.5"/></clipPath><g clip-path="url(#hc)">
<use href="#hol" x="413.8" y="516" />
<use href="#hol" x="433" y="516" />
<use href="#hol" x="451.8" y="516" />
<use href="#hol" x="471.4" y="516" />
</g>
<rect x="402.4" y="504.4" width="77.2" height="23.5" fill="none" stroke="#333" stroke-width="1.2" />
<use href="#lig" x="497.1" y="510.5" />
<use href="#lig" x="486.2" y="519.5" />
<use href="#lig" x="506.8" y="520.1" />
<use href="#lig" x="520" y="511.7" />
<use href="#lig" x="521.9" y="528" />
<use href="#lig" x="512.8" y="542.5" />
<use href="#lig" x="520.7" y="554.5" />
<use href="#lig" x="512.8" y="567.8" />
<line x1="528.5" y1="504.4" x2="528.5" y2="584" stroke="#777" stroke-width="1.6" />
<line x1="505" y1="578.1" x2="528.5" y2="578.1" stroke="#222" stroke-width="1.2" />
<rect x="506" y="579" width="22" height="28" fill="#fff" stroke="none" stroke-width="1" />
<rect x="528.5" y="585" width="40" height="22" fill="#fff" stroke="none" stroke-width="1" />
<line x1="528.5" y1="584.1" x2="570" y2="584.1" stroke="#222" stroke-width="2" />
<use href="#muh" x="511.6" y="585.8" />
<use href="#muh" x="526.1" y="589.6" />
<use href="#muh" x="546.6" y="590.6" />
<use href="#muh" x="562.3" y="590.6" />
<use href="#muh" x="514.6" y="601" />
<use href="#muh" x="536.4" y="601" />
<use href="#muh" x="554.5" y="601" />
<use href="#vit" x="548.5" y="537.3" />
<line x1="533.3" y1="540" x2="528" y2="547" stroke="#333" stroke-width="0.8" />
<rect x="331.7" y="573.9" width="47.1" height="48" fill="none" stroke="#777" stroke-width="1" />
<use href="#wil" transform="translate(354.6,597.6) scale(0.93)"/>
<rect x="570.3" y="551.7" width="94.5" height="31.5" fill="#fff" stroke="#222" stroke-width="1.4" />
<use href="#lan" x="575.9" y="563.2" />
<use href="#lan" x="587.8" y="557.3" />
<use href="#lan" x="600.5" y="563.8" />
<use href="#lan" x="611.3" y="557.3" />
<use href="#lan" x="623.4" y="563.2" />
<use href="#lan" x="635.5" y="557.3" />
<use href="#lan" x="646.4" y="564.4" />
<use href="#lan" x="657.8" y="557.3" />
<use href="#jun" x="577.3" y="576.8" />
<use href="#jun" x="593.2" y="576.8" />
<use href="#jun" x="608.3" y="576.8" />
<use href="#jun" x="624" y="576.8" />
<use href="#jun" x="640.3" y="576.8" />
<use href="#jun" x="656.6" y="576.8" />
<rect x="621.8" y="478.4" width="18.9" height="73" fill="#fff" stroke="#222" stroke-width="1.4" />
<use href="#yuc" x="627.6" y="484.1" />
<use href="#yuc" x="635.1" y="493.1" />
<use href="#yuc" x="627.6" y="502.8" />
<use href="#yuc" x="635.1" y="513.1" />
<use href="#yuc" x="628.2" y="523.3" />
<use href="#yuc" x="635.1" y="534.2" />
<use href="#yuc" x="628.2" y="544.5" />
<line x1="640.7" y1="551.4" x2="762" y2="551.4" stroke="#111" stroke-width="1.3" />
<rect x="645.6" y="478.6" width="12.9" height="12.9" fill="#fff" stroke="#4d4d4d" stroke-width="1.5" />
<rect x="664.2" y="478.6" width="12.9" height="12.9" fill="#fff" stroke="#4d4d4d" stroke-width="1.5" />
<rect x="682.9" y="478.6" width="12.9" height="12.9" fill="#fff" stroke="#4d4d4d" stroke-width="1.5" />
<rect x="701.6" y="478.6" width="12.9" height="12.9" fill="#fff" stroke="#4d4d4d" stroke-width="1.5" />
<rect x="720.2" y="478.6" width="12.9" height="12.9" fill="#fff" stroke="#4d4d4d" stroke-width="1.5" />
<rect x="645.6" y="497.2" width="12.9" height="12.9" fill="#fff" stroke="#4d4d4d" stroke-width="1.5" />
<rect x="664.2" y="497.2" width="12.9" height="12.9" fill="#fff" stroke="#4d4d4d" stroke-width="1.5" />
<rect x="682.9" y="497.2" width="12.9" height="12.9" fill="#fff" stroke="#4d4d4d" stroke-width="1.5" />
<rect x="701.6" y="497.2" width="12.9" height="12.9" fill="#fff" stroke="#4d4d4d" stroke-width="1.5" />
<rect x="720.2" y="497.2" width="12.9" height="12.9" fill="#fff" stroke="#4d4d4d" stroke-width="1.5" />
<rect x="645.6" y="515.7" width="12.9" height="12.9" fill="#fff" stroke="#4d4d4d" stroke-width="1.5" />
<rect x="664.2" y="515.7" width="12.9" height="12.9" fill="#fff" stroke="#4d4d4d" stroke-width="1.5" />
<rect x="682.9" y="515.7" width="12.9" height="12.9" fill="#fff" stroke="#4d4d4d" stroke-width="1.5" />
<rect x="701.6" y="515.7" width="12.9" height="12.9" fill="#fff" stroke="#4d4d4d" stroke-width="1.5" />
<rect x="720.2" y="515.7" width="12.9" height="12.9" fill="#fff" stroke="#4d4d4d" stroke-width="1.5" />
<rect x="645.6" y="534.2" width="12.9" height="12.9" fill="#fff" stroke="#4d4d4d" stroke-width="1.5" />
<rect x="664.2" y="534.2" width="12.9" height="12.9" fill="#fff" stroke="#4d4d4d" stroke-width="1.5" />
<rect x="682.9" y="534.2" width="12.9" height="12.9" fill="#fff" stroke="#4d4d4d" stroke-width="1.5" />
<rect x="701.6" y="534.2" width="12.9" height="12.9" fill="#fff" stroke="#4d4d4d" stroke-width="1.5" />
<rect x="720.2" y="534.2" width="12.9" height="12.9" fill="#fff" stroke="#4d4d4d" stroke-width="1.5" />
<polygon points="621.5,457 622.9,456.9 624.7,456.9 626.8,456.8 629.2,456.7 631.8,456.6 634.5,456.4 637.3,456.2 640,456 642.8,455.7 645.7,455.4 648.7,455.1 651.8,454.7 654.9,454.4 658,453.9 661.1,453.5 664.2,453 667.3,452.4 670.4,451.8 673.5,451.1 676.6,450.4 679.7,449.7 682.7,449 685.6,448.5 688.3,448.1 690.8,447.8 693.2,447.6 695.5,447.5 697.7,447.5 699.9,447.5 702,447.6 704.2,447.8 706.4,448.1 708.7,448.4 710.9,448.9 713.2,449.4 715.4,450 717.7,450.6 720,451.3 722.2,452.1 724.5,453 726.8,454 729.2,455 731.6,456.1 734,457.4 736.3,458.6 738.6,459.9 740.7,461.2 742.7,462.6 744.5,464 746.3,465.5 747.9,467.1 749.5,468.7 750.9,470.2 752.3,471.8 753.5,473.3 754.7,474.7 755.8,476 756.8,477.2 757.6,478.3 758.4,479.4 759.1,480.5 759.8,481.7 760.3,482.9 760.8,484.3 761.2,485.7 761.5,487.2 761.7,488.6 761.8,490.2 761.9,491.8 761.9,493.5 761.9,495.5 762,497.6 762.1,499.9 762.1,502.3 762.1,504.9 762.1,507.7 762.1,510.5 762,513.6 762,516.7 762,520 762,523.7 762,528 762,532.5 762,537.1 762,541.5 762,545.5 762,548.9 762,551.4 742,551.4 742,548.9 742,545.5 742,541.5 742,537 742,532.4 742,527.9 742,523.7 742,520 742,516.7 742,513.6 742,510.6 742,507.7 742,505.1 742,502.7 742,500.6 742,498.8 742,497.4 742,496.6 742,496 742,495.7 742,495.4 741.9,495.2 741.7,494.7 741.4,494 741.1,493 740.7,491.9 740.2,490.7 739.7,489.4 739.1,488.1 738.4,486.8 737.6,485.5 736.6,484.3 735.5,483.1 734.2,481.8 732.9,480.5 731.4,479.2 729.8,478 728.1,476.8 726.3,475.7 724.5,474.7 722.5,473.8 720.4,472.9 718.2,472.1 715.8,471.4 713.5,470.7 711.1,470.2 708.7,469.7 706.4,469.3 704.2,469 702,468.9 699.9,468.8 697.7,468.8 695.5,468.8 693.2,469 690.8,469.1 688.3,469.3 685.6,469.5 682.7,469.8 679.7,470.2 676.6,470.6 673.5,471 670.4,471.5 667.3,471.9 664.2,472.3 661.1,472.7 658,473.1 654.9,473.5 651.8,473.9 648.7,474.2 645.7,474.6 642.8,475 640,475.3 637.3,475.6 634.5,476 631.8,476.3 629.2,476.6 626.8,476.9 624.7,477.1 622.9,477.3 621.5,477.5" fill="#fff" stroke="none"/>
<path d="M621.5,457 C624.6,456.8 632.9,456.7 640,456 C647.1,455.3 656.2,454.3 664.2,453 C672.2,451.7 681.3,448.9 688.3,448.1 C695.3,447.3 700.4,447.3 706.4,448.1 C712.4,448.9 718.5,450.6 724.5,453 C730.5,455.4 737.7,459 742.7,462.6 C747.7,466.2 751.7,471.1 754.7,474.7 C757.7,478.3 759.6,480.5 760.8,484.3 C762,488.1 761.8,491.7 762,497.6 C762.2,503.6 762,511 762,520 C762,529 762,546.2 762,551.4" fill="none" stroke="#111" stroke-width="1.5" />
<path d="M621.5,477.5 C624.6,477.1 632.9,476.2 640,475.3 C647.1,474.4 656.2,473.3 664.2,472.3 C672.2,471.3 681.3,469.8 688.3,469.3 C695.3,468.8 700.4,468.4 706.4,469.3 C712.4,470.2 719.5,472.2 724.5,474.7 C729.5,477.2 733.8,481.1 736.6,484.3 C739.4,487.5 740.5,491.6 741.4,494 C742.3,496.4 741.9,494.5 742,498.8 C742.1,503.1 742,511.2 742,520 C742,528.8 742,546.2 742,551.4" fill="none" stroke="#111" stroke-width="1.5" />
<line x1="666.3" y1="452.7" x2="666.3" y2="472" stroke="#111" stroke-width="1.2" />
<line x1="742" y1="498.8" x2="762" y2="498.8" stroke="#111" stroke-width="1.2" />
<rect x="742" y="525.4" width="20" height="26" fill="url(#hat2)" stroke="#222" stroke-width="1.2" />
<use href="#dr" x="635.5" y="460.5" />
<use href="#dr" x="651.8" y="459.3" />
<use href="#dr" x="627.6" y="469" />
<use href="#dr" x="644.5" y="467.8" />
<use href="#dr" x="660.5" y="467" />
<use href="#iris" x="674.4" y="466.2" />
<use href="#iris" x="683.5" y="456" />
<use href="#iris" x="695" y="463.2" />
<use href="#iris" x="705.8" y="453.6" />
<use href="#iris" x="713.7" y="462.6" />
<use href="#yuc" x="727" y="460.2" />
<use href="#yuc" x="731.8" y="472.9" />
<use href="#yuc" x="744.5" y="471.7" />
<use href="#yuc" x="743.3" y="484.3" />
<use href="#yuc" x="754.7" y="489.8" />
<use href="#sal" x="748.1" y="503.6" />
<use href="#sal" x="756.5" y="508.8" />
<use href="#sal" x="747.5" y="514.5" />
<use href="#sal" x="757.1" y="519.2" />
<use href="#sal" x="747.8" y="524.8" />
<rect x="704.6" y="573.1" width="38.1" height="10" fill="#fff" stroke="#111" stroke-width="1.2" />
<use href="#flax" transform="translate(708.5,577) scale(0.62)"/>
<use href="#flax" transform="translate(710,581) scale(0.5)"/>
<use href="#flax" transform="translate(713.7,578.5) scale(0.62)"/>
<use href="#flax" transform="translate(715,581) scale(0.5)"/>
<use href="#flax" transform="translate(718.9,577) scale(0.62)"/>
<use href="#flax" transform="translate(720,581) scale(0.5)"/>
<use href="#flax" transform="translate(724.1,578.5) scale(0.62)"/>
<use href="#flax" transform="translate(725,581) scale(0.5)"/>
<use href="#flax" transform="translate(729.3,577) scale(0.62)"/>
<use href="#flax" transform="translate(730,581) scale(0.5)"/>
<use href="#flax" transform="translate(734.5,578.5) scale(0.62)"/>
<use href="#flax" transform="translate(735,581) scale(0.5)"/>
<use href="#flax" transform="translate(739.7,577) scale(0.62)"/>
<use href="#flax" transform="translate(740,581) scale(0.5)"/>
<path d="M980.7,377.5 C982.5,381 987.8,391.3 991.5,398.5 C995.2,405.7 1001.1,417.2 1003,420.9 L1018.4,413.9 L1018.4,413.9 C1018.2,412.8 1018.1,410.6 1017,407.5 C1015.9,404.4 1013.9,399.2 1012,395 C1010.1,390.8 1008.4,386.3 1005.6,382 C1002.8,377.7 997.1,371.3 995.4,369.2 Z" fill="#fff" stroke="#111" stroke-width="1.3" />
<path d="M1003,420.9 C1003.8,424.1 1006.4,433.7 1007.5,440 C1008.6,446.3 1008.9,453.4 1009.4,458.6 C1009.9,463.8 1010.5,469.2 1010.7,471.3 L1036.5,471.3 L1036.5,471.3 C1036.3,468.1 1036.3,458.6 1035.6,452.2 C1034.9,445.8 1034,439.6 1032.4,433 C1030.8,426.4 1027.1,416.2 1026,412.8 Z" fill="#fff" stroke="#111" stroke-width="1.3" />
<rect x="1011" y="471.3" width="31.9" height="80" fill="#fff" stroke="#111" stroke-width="1.4" />
<use href="#lan" transform="translate(987.5,379.5) scale(0.95)"/>
<use href="#lan" transform="translate(998,377.5) scale(0.95)"/>
<use href="#lan" transform="translate(992.5,391.5) scale(0.95)"/>
<use href="#lan" transform="translate(1003.5,390) scale(0.95)"/>
<use href="#lan" transform="translate(999.5,404) scale(0.95)"/>
<use href="#lan" transform="translate(1010,407) scale(0.95)"/>
<use href="#lan" transform="translate(1010.5,422) scale(1.0)"/>
<use href="#lan" transform="translate(1022.5,423) scale(1.0)"/>
<use href="#lan" transform="translate(1013,436.5) scale(1.0)"/>
<use href="#lan" transform="translate(1026.5,439) scale(1.0)"/>
<use href="#lan" transform="translate(1015,451) scale(1.0)"/>
<use href="#lan" transform="translate(1029.5,456) scale(1.0)"/>
<use href="#lan" transform="translate(1017.5,465.5) scale(1.0)"/>
<use href="#iris" transform="translate(1019.5,478.5) scale(1.1)"/>
<use href="#iris" transform="translate(1033.5,488.5) scale(1.1)"/>
<use href="#iris" transform="translate(1019,499.5) scale(1.1)"/>
<use href="#iris" transform="translate(1034,508.5) scale(1.1)"/>
<use href="#iris" transform="translate(1019.5,519) scale(1.1)"/>
<use href="#iris" transform="translate(1034.5,527.5) scale(1.1)"/>
<use href="#iris" transform="translate(1021,539.5) scale(1.1)"/>
<line x1="1026.4" y1="551.4" x2="1026.4" y2="634" stroke="#111" stroke-width="1.2" />
<rect x="979" y="575.5" width="23" height="58.5" fill="#fff" stroke="#444" stroke-width="1" />
<use href="#flax" transform="translate(986,581) scale(0.72)" opacity="0.85"/>
<use href="#flax" transform="translate(996,586) scale(0.72)" opacity="0.85"/>
<use href="#flax" transform="translate(987,595) scale(0.72)" opacity="0.85"/>
<use href="#flax" transform="translate(997,602) scale(0.72)" opacity="0.85"/>
<use href="#flax" transform="translate(986,610) scale(0.72)" opacity="0.85"/>
<use href="#flax" transform="translate(997,617) scale(0.72)" opacity="0.85"/>
<use href="#flax" transform="translate(987,625) scale(0.72)" opacity="0.85"/>
<use href="#flax" transform="translate(993,578) scale(0.72)" opacity="0.85"/>
<use href="#flax" transform="translate(991,606) scale(0.72)" opacity="0.85"/>
<rect x="982.9" y="634" width="61.8" height="119" fill="none" stroke="#222" stroke-width="1.15" />
<polyline points="982.7,760 982.7,861 1073,861 1073,1036.4 456.8,1036.4 456.8,830" fill="none" stroke="#222" stroke-width="1.15" />
<polygon points="507,929 530,929 530,897.6 580.6,897.6 580.6,929 904,929 904,898.5 956.9,898.5 956.9,929 980,929 980,1004 507,1004" fill="none" stroke="#222" stroke-width="1.15" />
<polygon points="332,624 380.5,624 380.5,528 504,528 504,609 570,609 570,585 982.5,585 982.5,760 932,760 932,774 864,774 864,760 782.3,760 782.3,850 608.5,850 608.5,800 490.5,800 490.5,830 389,830 389,786 332,786" fill="none" stroke="#000" stroke-width="4.2" stroke-linejoin="miter"/>
<text x="407.5" y="12.2" font-size="7.3" text-anchor="end" fill="#2b2b2b" stroke="#2b2b2b" stroke-width="0.18">CONCRETE EDGE</text>
<text x="407.5" y="20.7" font-size="7.3" text-anchor="end" fill="#2b2b2b" stroke="#2b2b2b" stroke-width="0.18">(EACH SIDE)</text>
<text x="407.5" y="29.2" font-size="7.3" text-anchor="end" fill="#2b2b2b" stroke="#2b2b2b" stroke-width="0.18">BY TEXCON</text>
<polyline points="411,9 423.4,9 431,-2" fill="none" stroke="#333" stroke-width="0.8" />
<text x="422.4" y="52.1" font-size="7.3" text-anchor="end" fill="#2b2b2b" stroke="#2b2b2b" stroke-width="0.18">BLACK STAR</text>
<text x="422.4" y="61.2" font-size="7.3" text-anchor="end" fill="#2b2b2b" stroke="#2b2b2b" stroke-width="0.18">GRAVEL STRIP</text>
<text x="422.4" y="70.4" font-size="7.3" text-anchor="end" fill="#2b2b2b" stroke="#2b2b2b" stroke-width="0.18">(EACH SIDE)</text>
<polyline points="425.8,48.4 438.7,48.4 457.3,21" fill="none" stroke="#333" stroke-width="0.8" />
<text x="325" y="214.4" font-size="7.3" text-anchor="end" fill="#2b2b2b" stroke="#2b2b2b" stroke-width="0.18">LIVE OAKS (3)</text>
<text x="325" y="223.4" font-size="7.3" text-anchor="end" fill="#2b2b2b" stroke="#2b2b2b" stroke-width="0.18">65 GALLON</text>
<polyline points="329,210.5 342.5,210.5 355,190" fill="none" stroke="#333" stroke-width="0.8" />
<text x="865.5" y="139.7" font-size="7.3" text-anchor="end" fill="#2b2b2b" stroke="#2b2b2b" stroke-width="0.18">EXISTING LIVE OAK</text>
<polyline points="869,137.4 882.4,137.4 921,178.5" fill="none" stroke="#333" stroke-width="0.8" />
<text x="386.7" y="297.9" font-size="7.3" text-anchor="end" fill="#2b2b2b" stroke="#2b2b2b" stroke-width="0.18">CEDAR PLANTER,</text>
<text x="386.7" y="306.6" font-size="7.3" text-anchor="end" fill="#2b2b2b" stroke="#2b2b2b" stroke-width="0.18">24" HEIGHT</text>
<polyline points="389.7,295 403.4,295 416,320" fill="none" stroke="#333" stroke-width="0.8" />
<text x="474.6" y="286.1" font-size="7.3" text-anchor="end" fill="#2b2b2b" stroke="#2b2b2b" stroke-width="0.18">BED AT GRADE,</text>
<text x="474.6" y="295.3" font-size="7.3" text-anchor="end" fill="#2b2b2b" stroke="#2b2b2b" stroke-width="0.18">SLAG GRAVEL</text>
<polyline points="477.6,283.7 489.6,283.7 510,323.7" fill="none" stroke="#333" stroke-width="0.8" />
<text x="567.3" y="298" font-size="7.3" text-anchor="end" fill="#2b2b2b" stroke="#2b2b2b" stroke-width="0.18">STEEL PLANTER,</text>
<text x="567.3" y="306.9" font-size="7.3" text-anchor="end" fill="#2b2b2b" stroke="#2b2b2b" stroke-width="0.18">24" HEIGHT</text>
<polyline points="571.2,294.8 583.3,294.8 596.7,319.6" fill="none" stroke="#333" stroke-width="0.8" />
<text x="354.3" y="350.8" font-size="7.3" text-anchor="end" fill="#2b2b2b" stroke="#2b2b2b" stroke-width="0.18">STEEL PLANTER,</text>
<text x="354.3" y="359.5" font-size="7.3" text-anchor="end" fill="#2b2b2b" stroke="#2b2b2b" stroke-width="0.18">18" HEIGHT</text>
<polyline points="357.3,347.9 371,347.9 378.5,359.9" fill="none" stroke="#333" stroke-width="0.8" />
<text x="354.3" y="422.4" font-size="7.3" text-anchor="end" fill="#2b2b2b" stroke="#2b2b2b" stroke-width="0.18">STEEL PLANTER,</text>
<text x="354.3" y="430.4" font-size="7.3" text-anchor="end" fill="#2b2b2b" stroke="#2b2b2b" stroke-width="0.18">24" HEIGHT</text>
<polyline points="357.3,419.3 371,419.3 376,442.2" fill="none" stroke="#333" stroke-width="0.8" />
<text x="301.8" y="442.1" font-size="7.3" text-anchor="end" fill="#2b2b2b" stroke="#2b2b2b" stroke-width="0.18">LIMESTONE BOULDERS</text>
<text x="301.8" y="450.9" font-size="7.3" text-anchor="end" fill="#2b2b2b" stroke="#2b2b2b" stroke-width="0.18">PROVIDED</text>
<text x="301.8" y="459.7" font-size="7.3" text-anchor="end" fill="#2b2b2b" stroke="#2b2b2b" stroke-width="0.18">BY OWNER</text>
<polyline points="305.3,439.2 316.8,439.2 341,470" fill="none" stroke="#333" stroke-width="0.8" />
<text x="504.3" y="400.8" font-size="7.3" text-anchor="middle" fill="#2b2b2b" stroke="#2b2b2b" stroke-width="0.18">BLACK STAR GRAVEL</text>
<text x="504.3" y="409.6" font-size="7.3" text-anchor="middle" fill="#2b2b2b" stroke="#2b2b2b" stroke-width="0.18">PARKING AREA</text>
<text x="545.4" y="427.7" font-size="7.3" text-anchor="end" fill="#2b2b2b" stroke="#2b2b2b" stroke-width="0.18">CEDAR PLANTER,</text>
<text x="545.4" y="436.9" font-size="7.3" text-anchor="end" fill="#2b2b2b" stroke="#2b2b2b" stroke-width="0.18">36" HEIGHT</text>
<polyline points="549,424.4 561.3,424.4 580.8,463" fill="none" stroke="#333" stroke-width="0.8" />
<text x="473.8" y="442.1" font-size="7.3" text-anchor="end" fill="#2b2b2b" stroke="#2b2b2b" stroke-width="0.18">BED AT GRADE,</text>
<text x="473.8" y="449.9" font-size="7.3" text-anchor="end" fill="#2b2b2b" stroke="#2b2b2b" stroke-width="0.18">SLAG GRAVEL</text>
<polyline points="477,437.7 489.6,437.7 505.8,463.5" fill="none" stroke="#333" stroke-width="0.8" />
<text x="437.8" y="490.9" font-size="7.3" text-anchor="middle" fill="#2b2b2b" stroke="#2b2b2b" stroke-width="0.18">RIVER ROCK</text>
<text x="439.9" y="499.9" font-size="7.3" text-anchor="middle" fill="#2b2b2b" stroke="#2b2b2b" stroke-width="0.18">DRY CREEK.</text>
<text x="321.1" y="558.5" font-size="7.3" text-anchor="end" fill="#2b2b2b" stroke="#2b2b2b" stroke-width="0.18">STEEL PLANTER,</text>
<text x="321.1" y="567.8" font-size="7.3" text-anchor="end" fill="#2b2b2b" stroke="#2b2b2b" stroke-width="0.18">24" HEIGHT</text>
<polyline points="324,556.1 337.3,556.1 353,536.2" fill="none" stroke="#333" stroke-width="0.8" />
<text x="419.2" y="541.1" font-size="7.3" text-anchor="middle" fill="#2b2b2b" stroke="#2b2b2b" stroke-width="0.18">STEEL PLANTER</text>
<text x="419.2" y="549.8" font-size="7.3" text-anchor="middle" fill="#2b2b2b" stroke="#2b2b2b" stroke-width="0.18">48" HEIGHT</text>
<polyline points="448.4,538.7 462.1,538.7 472.1,522.4" fill="none" stroke="#333" stroke-width="0.8" />
<text x="473.8" y="562.8" font-size="7.3" text-anchor="end" fill="#2b2b2b" stroke="#2b2b2b" stroke-width="0.18">STEEL PLANTER,</text>
<text x="473.8" y="571.5" font-size="7.3" text-anchor="end" fill="#2b2b2b" stroke="#2b2b2b" stroke-width="0.18">24" HEIGHT</text>
<polyline points="477.1,559.4 490.8,559.4 509,533" fill="none" stroke="#333" stroke-width="0.8" />
<text x="477.6" y="591" font-size="7.3" text-anchor="end" fill="#2b2b2b" stroke="#2b2b2b" stroke-width="0.18">VITEX 45g</text>
<polyline points="480.8,588.1 493.3,588.1 528,547" fill="none" stroke="#333" stroke-width="0.8" />
<text x="472.6" y="623.2" font-size="7.3" text-anchor="end" fill="#2b2b2b" stroke="#2b2b2b" stroke-width="0.18">STEEL PLANTER,</text>
<text x="472.6" y="631.9" font-size="7.3" text-anchor="end" fill="#2b2b2b" stroke="#2b2b2b" stroke-width="0.18">18" HEIGHT</text>
<polyline points="475.8,620.5 489.6,620.5 505.5,601" fill="none" stroke="#333" stroke-width="0.8" />
<text x="292.9" y="620.2" font-size="7.3" text-anchor="end" fill="#2b2b2b" stroke="#2b2b2b" stroke-width="0.18">BED, BLACK</text>
<text x="292.9" y="629.4" font-size="7.3" text-anchor="end" fill="#2b2b2b" stroke="#2b2b2b" stroke-width="0.18">METAL EDGING</text>
<polyline points="296.1,617.8 309.1,617.8 328.6,597.3" fill="none" stroke="#333" stroke-width="0.8" />
<text x="292.9" y="648.4" font-size="7.3" text-anchor="end" fill="#2b2b2b" stroke="#2b2b2b" stroke-width="0.18">DESERT WILLOW 45g</text>
<polyline points="296.1,645.5 309.1,645.5 331,624.8" fill="none" stroke="#333" stroke-width="0.8" />
<text x="667.8" y="391.6" font-size="7.3" text-anchor="start" fill="#2b2b2b" stroke="#2b2b2b" stroke-width="0.18">STEEL PLANTER,</text>
<text x="667.8" y="400.4" font-size="7.3" text-anchor="start" fill="#2b2b2b" stroke="#2b2b2b" stroke-width="0.18">48" HEIGHT</text>
<polyline points="664.8,389.2 651.1,389.2 621.2,454.9" fill="none" stroke="#333" stroke-width="0.8" />
<text x="678.1" y="416.1" font-size="7.3" text-anchor="start" fill="#2b2b2b" stroke="#2b2b2b" stroke-width="0.18">CEDAR PLANTER,</text>
<text x="678.1" y="423.7" font-size="7.3" text-anchor="start" fill="#2b2b2b" stroke="#2b2b2b" stroke-width="0.18">24" HEIGHT</text>
<polyline points="674.8,412.9 662.8,412.9 644.9,456.1" fill="none" stroke="#333" stroke-width="0.8" />
<text x="723.5" y="437.1" font-size="7.3" text-anchor="start" fill="#2b2b2b" stroke="#2b2b2b" stroke-width="0.18">STEEL PLANTER,</text>
<text x="723.5" y="445.4" font-size="7.3" text-anchor="start" fill="#2b2b2b" stroke="#2b2b2b" stroke-width="0.18">24" HEIGHT</text>
<polyline points="720.5,433.7 708.5,433.7 704.8,444.9" fill="none" stroke="#333" stroke-width="0.8" />
<text x="780.2" y="458.5" font-size="7.3" text-anchor="start" fill="#2b2b2b" stroke="#2b2b2b" stroke-width="0.18">STEEL PLANTER,</text>
<text x="780.2" y="467.3" font-size="7.3" text-anchor="start" fill="#2b2b2b" stroke="#2b2b2b" stroke-width="0.18">18" HEIGHT</text>
<polyline points="776.7,455.6 764.2,455.6 757.2,479.8" fill="none" stroke="#333" stroke-width="0.8" />
<text x="785.9" y="502.2" font-size="7.3" text-anchor="start" fill="#2b2b2b" stroke="#2b2b2b" stroke-width="0.18">CONCRETE PAVERS</text>
<text x="785.9" y="510.7" font-size="7.3" text-anchor="start" fill="#2b2b2b" stroke="#2b2b2b" stroke-width="0.18">2' x 2'</text>
<polyline points="782.9,499.8 770.9,499.8 731,531" fill="none" stroke="#333" stroke-width="0.8" />
<text x="794.6" y="529.4" font-size="7.3" text-anchor="start" fill="#2b2b2b" stroke="#2b2b2b" stroke-width="0.18">5 SOCIETY GARLIC</text>
<polyline points="790.9,526.8 777.9,526.8 759.7,539.7" fill="none" stroke="#333" stroke-width="0.8" />
<text x="573.1" y="604.8" font-size="7.3" text-anchor="start" fill="#2b2b2b" stroke="#2b2b2b" stroke-width="0.18">CEDAR 18" HT.</text>
<polyline points="626.8,601.2 638.5,601.2 644.8,581.2" fill="none" stroke="#333" stroke-width="0.8" />
<text x="627.3" y="629.5" font-size="7.3" text-anchor="end" fill="#2b2b2b" stroke="#2b2b2b" stroke-width="0.18">STEEL PLANTER,</text>
<text x="627.3" y="638.3" font-size="7.3" text-anchor="end" fill="#2b2b2b" stroke="#2b2b2b" stroke-width="0.18">12" HEIGHT</text>
<polyline points="630.3,626.6 644.3,626.6 658.5,572.5" fill="none" stroke="#333" stroke-width="0.8" />
<text x="656.5" y="599.8" font-size="7.3" text-anchor="start" fill="#2b2b2b" stroke="#2b2b2b" stroke-width="0.18">STEEL BED</text>
<text x="656.5" y="607.8" font-size="7.3" text-anchor="start" fill="#2b2b2b" stroke="#2b2b2b" stroke-width="0.18">12" HEIGHT</text>
<polyline points="699,596.9 712.2,596.9 715.9,586.2" fill="none" stroke="#333" stroke-width="0.8" />
<text x="724.7" y="621.8" font-size="7.3" text-anchor="end" fill="#2b2b2b" stroke="#2b2b2b" stroke-width="0.18">STEEL PLANTER,</text>
<text x="723.5" y="630.8" font-size="7.3" text-anchor="end" fill="#2b2b2b" stroke="#2b2b2b" stroke-width="0.18">12" HEIGHT</text>
<polyline points="727.7,618.6 740.9,618.6 759.6,555" fill="none" stroke="#333" stroke-width="0.8" />
<text x="938.3" y="413.8" font-size="7.3" text-anchor="end" fill="#2b2b2b" stroke="#2b2b2b" stroke-width="0.18">STEEL PLANTER,</text>
<text x="938.3" y="422.3" font-size="7.3" text-anchor="end" fill="#2b2b2b" stroke="#2b2b2b" stroke-width="0.18">12" HEIGHT</text>
<polyline points="942.1,410.3 954.7,410.3 983.7,383.8" fill="none" stroke="#333" stroke-width="0.8" />
<text x="959.9" y="458.6" font-size="7.3" text-anchor="end" fill="#2b2b2b" stroke="#2b2b2b" stroke-width="0.18">CEDAR PLANTER,</text>
<text x="959.9" y="467.7" font-size="7.3" text-anchor="end" fill="#2b2b2b" stroke="#2b2b2b" stroke-width="0.18">18" HEIGHT</text>
<polyline points="963.4,455.9 976.9,455.9 1004.9,428.3" fill="none" stroke="#333" stroke-width="0.8" />
<text x="962.4" y="540.7" font-size="7.3" text-anchor="end" fill="#2b2b2b" stroke="#2b2b2b" stroke-width="0.18">STEEL PLANTER,</text>
<text x="962.4" y="549.4" font-size="7.3" text-anchor="end" fill="#2b2b2b" stroke="#2b2b2b" stroke-width="0.18">24" HEIGHT</text>
<polyline points="966.3,537 979.8,537 1012.7,508.5" fill="none" stroke="#333" stroke-width="0.8" />
<rect x="21.6" y="1449" width="202.9" height="176.5" fill="#fff" stroke="#777" stroke-width="1.1" />
<text x="33.2" y="1476.9" font-size="9.35" text-anchor="start" fill="#2b2b2b" xml:space="preserve">Site Specific Notes:</text>
<text x="33.2" y="1498.8" font-size="9.35" text-anchor="start" fill="#2b2b2b" xml:space="preserve">1. Concrete Edging by Texcon, reference</text>
<text x="33.2" y="1510" font-size="9.35" text-anchor="start" fill="#2b2b2b" xml:space="preserve">details for specifics, plan for length.</text>
<text x="33.2" y="1521.3" font-size="9.35" text-anchor="start" fill="#2b2b2b" xml:space="preserve">2. Remove existing Live Oak (right of</text>
<text x="33.2" y="1532.3" font-size="9.35" text-anchor="start" fill="#2b2b2b" xml:space="preserve">drive, facing house), replace as shown.</text>
<text x="33.2" y="1543.8" font-size="9.35" text-anchor="start" fill="#2b2b2b" xml:space="preserve">3. Place bull rock and rip rap mix where</text>
<text x="33.2" y="1555.1" font-size="9.35" text-anchor="start" fill="#2b2b2b" xml:space="preserve">shown for dry creeks (near culverts).</text>
<text x="33.2" y="1566.1" font-size="9.35" text-anchor="start" fill="#2b2b2b" xml:space="preserve">4. Planters to be constructed of Steel or</text>
<text x="33.2" y="1577.3" font-size="9.35" text-anchor="start" fill="#2b2b2b" xml:space="preserve">Cedar where shown, except where Steel</text>
<text x="33.2" y="1588.6" font-size="9.35" text-anchor="start" fill="#2b2b2b" xml:space="preserve">Edging is indicated.  Steel planters by</text>
<text x="33.2" y="1599.9" font-size="9.35" text-anchor="start" fill="#2b2b2b" xml:space="preserve">owner.</text>
<line x1="406.8" y1="1186" x2="406.8" y2="1644" stroke="#333" stroke-width="1.6" />
<line x1="727.7" y1="1186" x2="727.7" y2="1644" stroke="#555" stroke-width="1.6" />
<line x1="405.5" y1="1185.6" x2="728.6" y2="1185.6" stroke="#1a1a1a" stroke-width="2.2" />
<text x="430" y="1209.7" font-size="8.3" text-anchor="start" fill="#e4352a" font-weight="bold">NOTE:</text>
<text x="430" y="1223" font-size="8.5" text-anchor="start" fill="#e4352a" font-weight="bold" xml:space="preserve" textLength="254" lengthAdjust="spacingAndGlyphs">TYPE "G" EXPANSION JOINTS IN CURB &amp; GUTTER SHALL BE</text>
<text x="430" y="1230.9" font-size="8.5" text-anchor="start" fill="#e4352a" font-weight="bold" xml:space="preserve" textLength="258" lengthAdjust="spacingAndGlyphs">SPACED AT A MAXIMUM DISTANCE OF 40' APART AND AT ALL</text>
<text x="430" y="1238.7" font-size="8.5" text-anchor="start" fill="#e4352a" font-weight="bold" xml:space="preserve" textLength="256" lengthAdjust="spacingAndGlyphs">RADIUS POINTS, P.T.'s, AND P.C.'s.  TYPE "B" CONTRACTION</text>
<text x="430" y="1246.6" font-size="8.5" text-anchor="start" fill="#e4352a" font-weight="bold" xml:space="preserve" textLength="262.5" lengthAdjust="spacingAndGlyphs">JOINTS IN CURB &amp; GUTTER SHALL BE SPACED AT A MAXIMUM</text>
<text x="430" y="1254.5" font-size="8.5" text-anchor="start" fill="#e4352a" font-weight="bold" xml:space="preserve" textLength="103" lengthAdjust="spacingAndGlyphs">DISTANCE OF 10' APART</text>
<path d="M479.6,1432.3 L668,1432.3 L668,1389 Q668,1385 664,1385 L483.6,1385 Q479.6,1385 479.6,1389 Z" fill="#fff" stroke="none" stroke-width="1" />
<use href="#speck" x="479.6" y="1385"/>
<path d="M479.6,1432.3 L668,1432.3 L668,1389 Q668,1385 664,1385 L483.6,1385 Q479.6,1385 479.6,1389 Z" fill="none" stroke="#222" stroke-width="1.2" />
<circle cx="502.5" cy="1418" r="2.4" fill="#111"/><circle cx="645.2" cy="1418.6" r="2.4" fill="#111"/>
<line x1="465.4" y1="1418.7" x2="501.6" y2="1418.7" stroke="#e4352a" stroke-width="1.1" />
<line x1="498.7" y1="1418" x2="498.7" y2="1461.3" stroke="#e4352a" stroke-width="1.1" />
<line x1="645" y1="1419.9" x2="683" y2="1419.9" stroke="#e4352a" stroke-width="1.1" />
<line x1="648" y1="1419.9" x2="648" y2="1460" stroke="#e4352a" stroke-width="1.1" />
<line x1="471.2" y1="1402" x2="471.2" y2="1414" stroke="#e4352a" stroke-width="1" />
<polygon points="471.2,1418.2 469.2,1410.2 473.2,1410.2" fill="#e4352a" stroke="none" stroke-width="1" />
<line x1="471.2" y1="1448" x2="471.2" y2="1438" stroke="#e4352a" stroke-width="1" />
<polygon points="471.2,1432.8 473.2,1440.8 469.2,1440.8" fill="#e4352a" stroke="none" stroke-width="1" />
<line x1="677.8" y1="1402" x2="677.8" y2="1414" stroke="#e4352a" stroke-width="1" />
<polygon points="677.8,1419.4 675.8,1411.4 679.8,1411.4" fill="#e4352a" stroke="none" stroke-width="1" />
<line x1="677.8" y1="1448" x2="677.8" y2="1438" stroke="#e4352a" stroke-width="1" />
<polygon points="677.8,1432.8 679.8,1440.8 675.8,1440.8" fill="#e4352a" stroke="none" stroke-width="1" />
<line x1="463.9" y1="1454" x2="474" y2="1454" stroke="#e4352a" stroke-width="1" />
<polygon points="479.4,1454 471.4,1456 471.4,1452" fill="#e4352a" stroke="none" stroke-width="1" />
<line x1="516" y1="1454" x2="507" y2="1454" stroke="#e4352a" stroke-width="1" />
<polygon points="499.2,1454 507.2,1452 507.2,1456" fill="#e4352a" stroke="none" stroke-width="1" />
<line x1="629" y1="1454" x2="640" y2="1454" stroke="#e4352a" stroke-width="1" />
<polygon points="647.5,1454 639.5,1456 639.5,1452" fill="#e4352a" stroke="none" stroke-width="1" />
<line x1="681" y1="1454" x2="675" y2="1454" stroke="#222" stroke-width="1" />
<polygon points="668.3,1454 676.3,1452 676.3,1456" fill="#222" stroke="none" stroke-width="1" />
<text x="466.4" y="1429.6" font-size="10.6" text-anchor="start" fill="#e4352a" stroke="#e4352a" stroke-width="0.25">2"</text>
<text x="673.8" y="1429.6" font-size="10.6" text-anchor="start" fill="#e4352a" stroke="#e4352a" stroke-width="0.25">2"</text>
<text x="485" y="1458" font-size="10.6" text-anchor="start" fill="#e4352a" stroke="#e4352a" stroke-width="0.25">3"</text>
<text x="653" y="1458" font-size="10.6" text-anchor="start" fill="#e4352a" stroke="#e4352a" stroke-width="0.25">3"</text>
<line x1="668.8" y1="1432.7" x2="683" y2="1432.7" stroke="#e4352a" stroke-width="1" />
<line x1="437.8" y1="1385" x2="478.4" y2="1385" stroke="#222" stroke-width="1" />
<line x1="437.8" y1="1432.3" x2="478.4" y2="1432.3" stroke="#222" stroke-width="1" />
<line x1="442.2" y1="1390" x2="442.2" y2="1427" stroke="#222" stroke-width="1" />
<polygon points="442.2,1385.3 444.2,1393.3 440.2,1393.3" fill="#111" stroke="none" stroke-width="1" />
<polygon points="442.2,1432 440.2,1424 444.2,1424" fill="#111" stroke="none" stroke-width="1" />
<text x="446" y="1410.8" font-size="8.2" text-anchor="start" fill="#222" font-weight="bold">6"</text>
<line x1="479.9" y1="1436.7" x2="479.9" y2="1474.3" stroke="#222" stroke-width="1.1" />
<line x1="667.7" y1="1436.7" x2="667.7" y2="1474.3" stroke="#222" stroke-width="1.1" />
<line x1="486" y1="1470" x2="562" y2="1470" stroke="#222" stroke-width="1" />
<line x1="586" y1="1470" x2="661" y2="1470" stroke="#222" stroke-width="1" />
<polygon points="480.2,1470 489.2,1468 489.2,1472" fill="#111" stroke="none" stroke-width="1" />
<polygon points="667.4,1470 658.4,1472 658.4,1468" fill="#111" stroke="none" stroke-width="1" />
<text x="574.3" y="1472.9" font-size="8.4" text-anchor="middle" fill="#222" font-weight="bold">24"</text>
<text x="469.7" y="1350.3" font-size="8.5" text-anchor="start" fill="#222" font-weight="bold">#4 BAR</text>
<polyline points="501.6,1347.4 506.5,1347.4 503,1412" fill="none" stroke="#222" stroke-width="0.9" />
<polygon points="502.6,1416.5 501.1,1407.4 505.1,1407.6" fill="#111" stroke="none" stroke-width="1" />
<polyline points="506.5,1347.4 640,1414.5" fill="none" stroke="#222" stroke-width="0.9" />
<polygon points="644,1416.8 635.1,1414.5 636.9,1410.9" fill="#111" stroke="none" stroke-width="1" />
<text x="603.9" y="1346.8" font-size="8.5" text-anchor="start" fill="#222" font-weight="bold">1/2" CHAMFER</text>
<text x="605" y="1354.9" font-size="8.6" text-anchor="start" fill="#222" font-weight="bold">(TYPICAL)</text>
<polyline points="663.9,1344.5 691.4,1344.5 669.5,1381" fill="none" stroke="#222" stroke-width="0.9" />
<polygon points="666.8,1386 669.7,1377.3 673.1,1379.3" fill="#111" stroke="none" stroke-width="1" />
<rect x="597.8" y="1507.1" width="108.7" height="21.7" fill="#fff" stroke="#222" stroke-width="1" />
<text x="606" y="1516.4" font-size="8.6" text-anchor="start" fill="#222" font-weight="bold">28-DAY CONCRETE</text>
<text x="606" y="1526.5" font-size="8.6" text-anchor="start" fill="#222" font-weight="bold">STRENGTH=3500 psi.</text>
<text x="488.6" y="1567.7" font-size="25.4" text-anchor="start" fill="#1a1a1a" font-family="Liberation Serif, serif" stroke="#1a1a1a" stroke-width="0.35" textLength="104.5" lengthAdjust="spacingAndGlyphs">TYPICAL</text>
<line x1="488.6" y1="1573.5" x2="593" y2="1573.5" stroke="#333" stroke-width="1.3" />
<text x="456.7" y="1593.2" font-size="25.4" text-anchor="start" fill="#1a1a1a" font-family="Liberation Serif, serif" stroke="#1a1a1a" stroke-width="0.35" textLength="168" lengthAdjust="spacingAndGlyphs">RIBBON CURB</text>
<line x1="456" y1="1599.9" x2="626" y2="1599.9" stroke="#333" stroke-width="1.3" />
<text x="915.4" y="1114.6" font-size="11.25" text-anchor="start" fill="#333" >Symbol</text>
<text x="985.2" y="1114.6" font-size="11.25" text-anchor="start" fill="#333" >Plant name</text>
<text x="1174.4" y="1114.6" font-size="11.25" text-anchor="start" fill="#333" >Qty</text>
<text x="1213.7" y="1114.6" font-size="11.25" text-anchor="start" fill="#333" >Size</text>
<line x1="933.8" y1="1123.2" x2="1242" y2="1123.2" stroke="#444" stroke-width="0.9" />
<text x="973.8" y="1149" font-size="11.25" text-anchor="start" fill="#333" >Society Garlic</text>
<text x="1176.2" y="1148.4" font-size="11.25" text-anchor="start" fill="#333" >5</text>
<text x="1186" y="1148.4" font-size="9.6" text-anchor="start" fill="#555" textLength="27.5">..........</text>
<text x="1220.5" y="1148.4" font-size="11.25" text-anchor="start" fill="#333" >5g</text>
<text x="973.8" y="1175.8" font-size="11.25" text-anchor="start" fill="#333" >Flax Lily</text>
<text x="1176.2" y="1175.2" font-size="11.25" text-anchor="start" fill="#333" >17</text>
<text x="1191.6" y="1175.2" font-size="9.6" text-anchor="start" fill="#555" textLength="27.5">..........</text>
<text x="1226" y="1175.2" font-size="11.25" text-anchor="start" fill="#333" >5g</text>
<text x="973.8" y="1202.9" font-size="11.25" text-anchor="start" fill="#333" >Lantana</text>
<text x="1176.2" y="1202.3" font-size="11.25" text-anchor="start" fill="#333" >27</text>
<text x="1192.8" y="1202.3" font-size="9.6" text-anchor="start" fill="#555" textLength="27.5">..........</text>
<text x="1227" y="1202.3" font-size="11.25" text-anchor="start" fill="#333" >5g</text>
<text x="973.8" y="1229.9" font-size="11.25" text-anchor="start" fill="#333" >Drift Rose</text>
<text x="1176.2" y="1229.3" font-size="11.25" text-anchor="start" fill="#333" >11</text>
<text x="1191.6" y="1229.3" font-size="9.6" text-anchor="start" fill="#555" textLength="27.5">..........</text>
<text x="1226" y="1229.3" font-size="11.25" text-anchor="start" fill="#333" >5g</text>
<text x="973.8" y="1258.2" font-size="11.25" text-anchor="start" fill="#333" >Red Salvia</text>
<text x="1176.2" y="1257.6" font-size="11.25" text-anchor="start" fill="#333" >5</text>
<text x="1186" y="1257.6" font-size="9.6" text-anchor="start" fill="#555" textLength="27.5">..........</text>
<text x="1220.5" y="1257.6" font-size="11.25" text-anchor="start" fill="#333" >5g</text>
<text x="973.8" y="1285.3" font-size="11.25" text-anchor="start" fill="#333" >Seagreen Juniper</text>
<text x="1176.2" y="1284.7" font-size="11.25" text-anchor="start" fill="#333" >16</text>
<text x="1191.6" y="1284.7" font-size="9.6" text-anchor="start" fill="#555" textLength="27.5">..........</text>
<text x="1226" y="1284.7" font-size="11.25" text-anchor="start" fill="#333" >5g</text>
<text x="973.8" y="1312.1" font-size="11.25" text-anchor="start" fill="#333" >Sunshine Ligustrum</text>
<text x="1176.2" y="1311.5" font-size="11.25" text-anchor="start" fill="#333" >16</text>
<text x="1191.6" y="1311.5" font-size="9.6" text-anchor="start" fill="#555" textLength="27.5">..........</text>
<text x="1226" y="1311.5" font-size="11.25" text-anchor="start" fill="#333" >5g</text>
<text x="973.8" y="1339.1" font-size="11.25" text-anchor="start" fill="#333" >Bicolor Iris</text>
<text x="1176.2" y="1338.5" font-size="11.25" text-anchor="start" fill="#333" >20</text>
<text x="1192.8" y="1338.5" font-size="9.6" text-anchor="start" fill="#555" textLength="27.5">..........</text>
<text x="1227" y="1338.5" font-size="11.25" text-anchor="start" fill="#333" >5g</text>
<text x="973.8" y="1365.9" font-size="11.25" text-anchor="start" fill="#333" >Adagio Miscanthus</text>
<text x="1176.2" y="1365.3" font-size="11.25" text-anchor="start" fill="#333" >10</text>
<text x="1191.6" y="1365.3" font-size="9.6" text-anchor="start" fill="#555" textLength="27.5">..........</text>
<text x="1226" y="1365.3" font-size="11.25" text-anchor="start" fill="#333" >5g</text>
<text x="973.8" y="1393.2" font-size="11.25" text-anchor="start" fill="#333" >Pink Muhly Grass (Gulf)</text>
<text x="1176.2" y="1392.6" font-size="11.25" text-anchor="start" fill="#333" >7</text>
<text x="1186" y="1392.6" font-size="9.6" text-anchor="start" fill="#555" textLength="27.5">..........</text>
<text x="1220.5" y="1392.6" font-size="11.25" text-anchor="start" fill="#333" >5g</text>
<text x="973.8" y="1420" font-size="11.25" text-anchor="start" fill="#333" >Red Yucca</text>
<text x="1176.2" y="1419.4" font-size="11.25" text-anchor="start" fill="#333" >12</text>
<text x="1191.6" y="1419.4" font-size="9.6" text-anchor="start" fill="#555" textLength="27.5">..........</text>
<text x="1226" y="1419.4" font-size="11.25" text-anchor="start" fill="#333" >5g</text>
<text x="973.8" y="1447" font-size="11.25" text-anchor="start" fill="#333" >Agave</text>
<text x="1176.2" y="1446.4" font-size="11.25" text-anchor="start" fill="#333" >3</text>
<text x="1189" y="1446.4" font-size="9.6" text-anchor="start" fill="#555" textLength="30.2">...........</text>
<text x="1227" y="1446.4" font-size="11.25" text-anchor="start" fill="#333" >24"</text>
<text x="973.8" y="1488.3" font-size="11.25" text-anchor="start" fill="#333" >Arrow Point Holly</text>
<text x="1176.2" y="1487.7" font-size="11.25" text-anchor="start" fill="#333" >4</text>
<text x="1186" y="1487.7" font-size="9.6" text-anchor="start" fill="#555" textLength="27.5">..........</text>
<text x="1221.4" y="1487.7" font-size="11.25" text-anchor="start" fill="#333" >15g</text>
<text x="973.8" y="1542.1" font-size="11.25" text-anchor="start" fill="#333" >Vitex (Chaste Tree)</text>
<text x="1176.2" y="1541.5" font-size="11.25" text-anchor="start" fill="#333" >1</text>
<text x="1185.4" y="1541.5" font-size="9.6" text-anchor="start" fill="#555" textLength="27.5">..........</text>
<text x="1220" y="1541.5" font-size="11.25" text-anchor="start" fill="#333" >45g</text>
<text x="973.8" y="1609.1" font-size="11.25" text-anchor="start" fill="#333" >Desert Willow</text>
<text x="1176.2" y="1608.5" font-size="11.25" text-anchor="start" fill="#333" >1</text>
<text x="1185.4" y="1608.5" font-size="9.6" text-anchor="start" fill="#555" textLength="27.5">..........</text>
<text x="1220" y="1608.5" font-size="11.25" text-anchor="start" fill="#333" >45g</text>
<g transform="translate(945.5,1143)"><path d="M-16.2,1 C-16.2,0.1 -15.7,-0.6 -15,-1.5 C-14.3,-2.4 -12.8,-3.6 -12,-4.5 C-11.1,-5.3 -10.8,-6.1 -9.9,-6.6 C-8.9,-7.1 -7.3,-6.8 -6.5,-7.5 C-5.6,-8.1 -5.7,-9.8 -4.8,-10.4 C-3.8,-11 -2.3,-11 -0.9,-11.1 C0.4,-11.1 2.3,-11.1 3.3,-10.7 C4.3,-10.2 4.2,-8.9 5,-8.3 C5.9,-7.8 7.7,-8 8.4,-7.5 C9.2,-6.9 9.1,-5.6 9.7,-4.9 C10.3,-4.2 11.7,-4.1 12.3,-3.2 C12.9,-2.3 12.8,-0.5 13.3,0.6 C13.9,1.8 15.3,2.6 15.7,3.6 C16.1,4.6 16,5.6 15.7,6.6 C15.3,7.6 14.6,8.9 13.5,9.6 C12.5,10.2 10.7,10.3 9.3,10.4 C7.9,10.5 6.2,10.8 5,10.4 C3.9,10 3.8,8.8 2.5,8.3 C1.2,7.8 -1.5,7.9 -2.6,7.4 C-3.8,7 -3.4,5.9 -4.3,5.7 C-5.3,5.6 -6.8,6.5 -8.2,6.6 C-9.5,6.6 -11.3,6.6 -12.4,6.1 C-13.6,5.7 -14.3,4.9 -15,4 C-15.6,3.2 -16.2,2 -16.2,1Z" fill="url(#hat2)" stroke="#555" stroke-width="1.2"/></g>
<use href="#flax" transform="translate(949.2,1172) scale(1.15)"/>
<use href="#lan" transform="translate(949.2,1199.2) scale(1.15)"/>
<use href="#dr" transform="translate(949.2,1226.3) scale(1.15)"/>
<use href="#sal" transform="translate(949.2,1254.6) scale(1.2)"/>
<use href="#jun" transform="translate(949.2,1280.7) scale(1.05)" opacity="0.8"/>
<use href="#lig" transform="translate(949.2,1308.4) scale(1.1)" opacity="0.85"/>
<use href="#iris" transform="translate(949.2,1335.2) scale(0.98)"/>
<use href="#mis" transform="translate(949.2,1362.2) scale(1.15)"/>
<use href="#muh" transform="translate(950.1,1389.2) scale(1.2)"/>
<use href="#yuc" transform="translate(950.1,1416.9) scale(1.15)"/>
<use href="#aga" transform="translate(950.7,1444.6) scale(1.0)"/>
<use href="#holL" x="949.8" y="1484" />
<use href="#vit" x="938.4" y="1537.5" />
<use href="#wil" x="937" y="1604.2" />
</g>
</svg>
</body></html>
